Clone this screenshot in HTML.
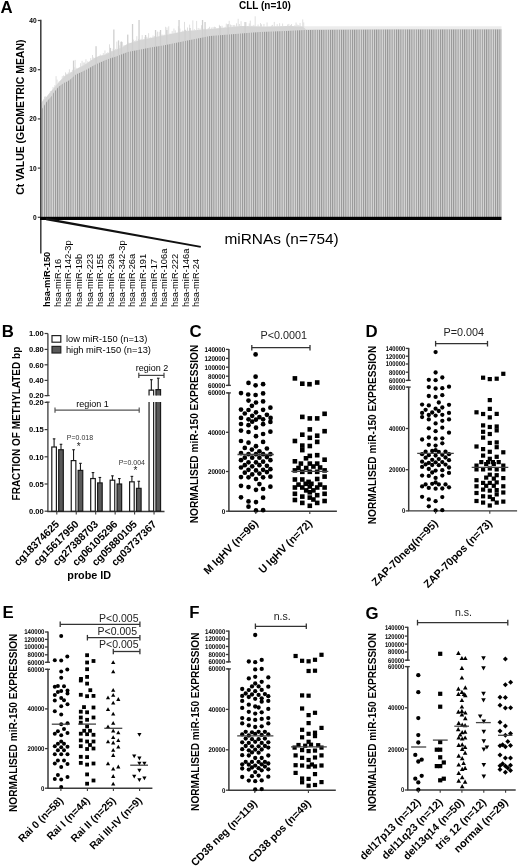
<!DOCTYPE html>
<html><head><meta charset="utf-8"><style>
html,body{margin:0;padding:0;background:#fff;}
svg{display:block;will-change:transform;-webkit-font-smoothing:antialiased;}
text{font-family:"Liberation Sans", sans-serif;}
</style></head><body>
<svg width="520" height="866" viewBox="0 0 520 866">
<defs>
<pattern id="stripes" patternUnits="userSpaceOnUse" width="2.2" height="10">
<rect width="2.2" height="10" fill="#d9d9d9"/><rect width="1.0" height="10" fill="#939393"/>
</pattern>
</defs>
<rect width="520" height="866" fill="#fff"/>
<text x="0.60" y="13.40" font-size="16.8" font-weight="bold" text-anchor="start" fill="#000">A</text>
<text x="239.00" y="9.30" font-size="10" font-weight="bold" text-anchor="start" fill="#000">CLL (n=10)</text>
<text x="23.90" y="117.20" font-size="10.45" font-weight="bold" text-anchor="middle" fill="#000" transform="rotate(-90 23.9 117.2)">Ct VALUE (GEOMETRIC MEAN)</text>
<rect x="300" y="26.3" width="201.5" height="4" fill="#ececec"/>
<polygon points="41.5,217 41.5,103.0 42.6,100.8 45.7,97.7 49.5,93.0 53.4,88.5 58.0,83.0 65.0,75.4 70.3,72.7 75.8,69.2 81.5,66.3 87.3,62.9 93.1,58.8 98.8,56.0 104.6,54.8 110.4,51.9 116.2,49.6 121.9,47.3 127.7,43.8 140.0,40.0 160.0,36.0 185.0,31.0 210.0,29.0 240.0,26.0 265.0,26.5 290.0,26.0 303.0,26.5 306.0,29.6 400.0,29.2 501.5,29.0 501.5,217" fill="#d6d6d6"/>
<rect x="43.0" y="99.4" width="0.9" height="1.5" fill="#dcdcdc"/>
<rect x="44.0" y="96.6" width="0.9" height="3.2" fill="#dcdcdc"/>
<rect x="45.0" y="96.4" width="0.9" height="2.5" fill="#dcdcdc"/>
<rect x="49.9" y="91.1" width="0.9" height="1.9" fill="#dcdcdc"/>
<rect x="52.6" y="86.9" width="0.9" height="3.1" fill="#dcdcdc"/>
<rect x="54.4" y="85.1" width="0.9" height="2.7" fill="#dcdcdc"/>
<rect x="55.6" y="76.1" width="0.9" height="10.2" fill="#dcdcdc"/>
<rect x="56.6" y="79.6" width="0.9" height="5.6" fill="#dcdcdc"/>
<rect x="58.7" y="81.3" width="0.9" height="1.5" fill="#dcdcdc"/>
<rect x="61.8" y="76.2" width="0.9" height="3.1" fill="#dcdcdc"/>
<rect x="63.0" y="75.5" width="0.9" height="2.6" fill="#dcdcdc"/>
<rect x="65.1" y="72.4" width="0.9" height="3.5" fill="#dcdcdc"/>
<rect x="66.3" y="73.7" width="0.9" height="1.5" fill="#dcdcdc"/>
<rect x="67.8" y="72.4" width="0.9" height="2.1" fill="#dcdcdc"/>
<rect x="68.9" y="69.3" width="0.9" height="4.6" fill="#dcdcdc"/>
<rect x="70.5" y="71.9" width="0.9" height="1.2" fill="#dcdcdc"/>
<rect x="71.9" y="69.8" width="0.9" height="2.4" fill="#dcdcdc"/>
<rect x="73.6" y="67.2" width="0.9" height="3.9" fill="#dcdcdc"/>
<rect x="74.7" y="59.9" width="0.9" height="10.5" fill="#dcdcdc"/>
<rect x="75.7" y="67.8" width="0.9" height="1.9" fill="#dcdcdc"/>
<rect x="80.2" y="63.2" width="0.9" height="4.3" fill="#dcdcdc"/>
<rect x="81.6" y="60.8" width="0.9" height="5.9" fill="#dcdcdc"/>
<rect x="82.8" y="62.5" width="0.9" height="3.6" fill="#dcdcdc"/>
<rect x="84.2" y="62.5" width="0.9" height="2.8" fill="#dcdcdc"/>
<rect x="85.5" y="59.2" width="0.9" height="5.3" fill="#dcdcdc"/>
<rect x="87.3" y="61.3" width="0.9" height="2.2" fill="#dcdcdc"/>
<rect x="90.3" y="58.1" width="0.9" height="3.2" fill="#dcdcdc"/>
<rect x="92.1" y="55.0" width="0.9" height="5.0" fill="#dcdcdc"/>
<rect x="93.2" y="57.5" width="0.9" height="1.8" fill="#dcdcdc"/>
<rect x="99.8" y="54.5" width="0.9" height="1.8" fill="#dcdcdc"/>
<rect x="102.8" y="53.1" width="0.9" height="2.6" fill="#dcdcdc"/>
<rect x="104.5" y="50.4" width="0.9" height="4.9" fill="#dcdcdc"/>
<rect x="106.1" y="53.2" width="0.9" height="1.3" fill="#dcdcdc"/>
<rect x="107.4" y="52.2" width="0.9" height="1.7" fill="#dcdcdc"/>
<rect x="109.1" y="44.3" width="0.9" height="8.7" fill="#dcdcdc"/>
<rect x="111.2" y="50.9" width="0.9" height="1.2" fill="#dcdcdc"/>
<rect x="112.6" y="48.7" width="0.9" height="2.8" fill="#dcdcdc"/>
<rect x="115.0" y="48.9" width="0.9" height="1.7" fill="#dcdcdc"/>
<rect x="116.4" y="41.6" width="0.9" height="8.5" fill="#dcdcdc"/>
<rect x="117.9" y="47.0" width="0.9" height="2.4" fill="#dcdcdc"/>
<rect x="119.4" y="45.4" width="0.9" height="3.4" fill="#dcdcdc"/>
<rect x="120.3" y="42.0" width="0.9" height="6.5" fill="#dcdcdc"/>
<rect x="121.9" y="41.9" width="0.9" height="5.9" fill="#dcdcdc"/>
<rect x="123.6" y="45.0" width="0.9" height="1.8" fill="#dcdcdc"/>
<rect x="127.2" y="43.5" width="0.9" height="1.1" fill="#dcdcdc"/>
<rect x="128.3" y="42.5" width="0.9" height="1.6" fill="#dcdcdc"/>
<rect x="133.2" y="39.6" width="0.9" height="3.0" fill="#dcdcdc"/>
<rect x="134.2" y="41.0" width="0.9" height="1.3" fill="#dcdcdc"/>
<rect x="135.4" y="40.2" width="0.9" height="1.7" fill="#dcdcdc"/>
<rect x="136.4" y="36.2" width="0.9" height="5.4" fill="#dcdcdc"/>
<rect x="138.2" y="38.9" width="0.9" height="2.1" fill="#dcdcdc"/>
<rect x="140.6" y="38.8" width="0.9" height="1.6" fill="#dcdcdc"/>
<rect x="141.7" y="35.1" width="0.9" height="5.1" fill="#dcdcdc"/>
<rect x="144.5" y="37.1" width="0.9" height="2.5" fill="#dcdcdc"/>
<rect x="145.5" y="36.9" width="0.9" height="2.5" fill="#dcdcdc"/>
<rect x="146.5" y="36.8" width="0.9" height="2.5" fill="#dcdcdc"/>
<rect x="148.2" y="33.2" width="0.9" height="5.7" fill="#dcdcdc"/>
<rect x="149.8" y="37.3" width="0.9" height="1.3" fill="#dcdcdc"/>
<rect x="152.6" y="35.5" width="0.9" height="2.5" fill="#dcdcdc"/>
<rect x="154.2" y="36.1" width="0.9" height="1.5" fill="#dcdcdc"/>
<rect x="155.3" y="32.6" width="0.9" height="4.8" fill="#dcdcdc"/>
<rect x="157.1" y="31.6" width="0.9" height="5.5" fill="#dcdcdc"/>
<rect x="158.7" y="31.8" width="0.9" height="4.9" fill="#dcdcdc"/>
<rect x="160.3" y="35.3" width="0.9" height="1.2" fill="#dcdcdc"/>
<rect x="161.6" y="34.5" width="0.9" height="1.6" fill="#dcdcdc"/>
<rect x="163.7" y="34.5" width="0.9" height="1.3" fill="#dcdcdc"/>
<rect x="165.2" y="26.8" width="0.9" height="8.7" fill="#dcdcdc"/>
<rect x="166.5" y="27.5" width="0.9" height="7.7" fill="#dcdcdc"/>
<rect x="168.3" y="26.3" width="0.9" height="8.6" fill="#dcdcdc"/>
<rect x="169.6" y="33.4" width="0.9" height="1.1" fill="#dcdcdc"/>
<rect x="171.7" y="31.1" width="0.9" height="3.0" fill="#dcdcdc"/>
<rect x="173.5" y="28.5" width="0.9" height="5.3" fill="#dcdcdc"/>
<rect x="174.8" y="30.3" width="0.9" height="3.3" fill="#dcdcdc"/>
<rect x="177.9" y="26.2" width="0.9" height="6.8" fill="#dcdcdc"/>
<rect x="179.5" y="28.5" width="0.9" height="4.1" fill="#dcdcdc"/>
<rect x="182.4" y="30.5" width="0.9" height="1.6" fill="#dcdcdc"/>
<rect x="184.1" y="21.9" width="0.9" height="9.8" fill="#dcdcdc"/>
<rect x="185.3" y="29.6" width="0.9" height="1.8" fill="#dcdcdc"/>
<rect x="187.1" y="27.5" width="0.9" height="3.9" fill="#dcdcdc"/>
<rect x="189.2" y="24.6" width="0.9" height="6.6" fill="#dcdcdc"/>
<rect x="192.4" y="20.4" width="0.9" height="10.5" fill="#dcdcdc"/>
<rect x="193.9" y="29.2" width="0.9" height="1.6" fill="#dcdcdc"/>
<rect x="196.2" y="20.9" width="0.9" height="9.7" fill="#dcdcdc"/>
<rect x="197.7" y="28.0" width="0.9" height="2.4" fill="#dcdcdc"/>
<rect x="199.5" y="28.4" width="0.9" height="2.0" fill="#dcdcdc"/>
<rect x="201.1" y="25.2" width="0.9" height="5.0" fill="#dcdcdc"/>
<rect x="202.2" y="28.9" width="0.9" height="1.3" fill="#dcdcdc"/>
<rect x="203.4" y="28.8" width="0.9" height="1.2" fill="#dcdcdc"/>
<rect x="204.8" y="28.6" width="0.9" height="1.3" fill="#dcdcdc"/>
<rect x="207.8" y="28.0" width="0.9" height="1.6" fill="#dcdcdc"/>
<rect x="209.1" y="26.8" width="0.9" height="2.8" fill="#dcdcdc"/>
<rect x="210.8" y="27.5" width="0.9" height="1.9" fill="#dcdcdc"/>
<rect x="212.6" y="26.9" width="0.9" height="2.3" fill="#dcdcdc"/>
<rect x="214.0" y="26.7" width="0.9" height="2.4" fill="#dcdcdc"/>
<rect x="214.9" y="27.0" width="0.9" height="2.0" fill="#dcdcdc"/>
<rect x="218.9" y="24.8" width="0.9" height="3.9" fill="#dcdcdc"/>
<rect x="220.3" y="26.9" width="0.9" height="1.5" fill="#dcdcdc"/>
<rect x="221.6" y="25.7" width="0.9" height="2.6" fill="#dcdcdc"/>
<rect x="224.7" y="26.8" width="0.9" height="1.2" fill="#dcdcdc"/>
<rect x="225.8" y="23.6" width="0.9" height="4.3" fill="#dcdcdc"/>
<rect x="227.2" y="25.1" width="0.9" height="2.6" fill="#dcdcdc"/>
<rect x="228.7" y="20.8" width="0.9" height="6.8" fill="#dcdcdc"/>
<rect x="230.0" y="24.5" width="0.9" height="3.0" fill="#dcdcdc"/>
<rect x="231.4" y="25.0" width="0.9" height="2.4" fill="#dcdcdc"/>
<rect x="232.9" y="25.1" width="0.9" height="2.1" fill="#dcdcdc"/>
<rect x="234.3" y="24.9" width="0.9" height="2.2" fill="#dcdcdc"/>
<rect x="236.0" y="23.3" width="0.9" height="3.6" fill="#dcdcdc"/>
<rect x="237.7" y="18.8" width="0.9" height="7.9" fill="#dcdcdc"/>
<rect x="238.9" y="24.0" width="0.9" height="2.6" fill="#dcdcdc"/>
<rect x="240.6" y="21.2" width="0.9" height="5.3" fill="#dcdcdc"/>
<rect x="245.6" y="22.1" width="0.9" height="4.5" fill="#dcdcdc"/>
<rect x="248.8" y="23.4" width="0.9" height="3.3" fill="#dcdcdc"/>
<rect x="249.8" y="20.6" width="0.9" height="6.1" fill="#dcdcdc"/>
<rect x="251.6" y="25.6" width="0.9" height="1.1" fill="#dcdcdc"/>
<rect x="253.4" y="24.9" width="0.9" height="1.8" fill="#dcdcdc"/>
<rect x="254.7" y="16.3" width="0.9" height="10.5" fill="#dcdcdc"/>
<rect x="257.6" y="24.5" width="0.9" height="2.4" fill="#dcdcdc"/>
<rect x="260.0" y="23.1" width="0.9" height="3.8" fill="#dcdcdc"/>
<rect x="261.0" y="24.3" width="0.9" height="2.6" fill="#dcdcdc"/>
<rect x="263.5" y="23.9" width="0.9" height="3.0" fill="#dcdcdc"/>
<rect x="266.6" y="22.4" width="0.9" height="4.5" fill="#dcdcdc"/>
<rect x="271.1" y="25.6" width="0.9" height="1.3" fill="#dcdcdc"/>
<rect x="272.1" y="24.9" width="0.9" height="1.9" fill="#dcdcdc"/>
<rect x="273.8" y="21.9" width="0.9" height="4.9" fill="#dcdcdc"/>
<rect x="276.7" y="24.1" width="0.9" height="2.7" fill="#dcdcdc"/>
<rect x="279.2" y="23.2" width="0.9" height="3.5" fill="#dcdcdc"/>
<rect x="282.2" y="23.5" width="0.9" height="3.1" fill="#dcdcdc"/>
<rect x="287.2" y="24.5" width="0.9" height="2.1" fill="#dcdcdc"/>
<rect x="288.4" y="23.9" width="0.9" height="2.6" fill="#dcdcdc"/>
<rect x="290.1" y="25.2" width="0.9" height="1.3" fill="#dcdcdc"/>
<rect x="291.1" y="24.1" width="0.9" height="2.4" fill="#dcdcdc"/>
<rect x="294.4" y="25.2" width="0.9" height="1.5" fill="#dcdcdc"/>
<rect x="295.6" y="22.5" width="0.9" height="4.2" fill="#dcdcdc"/>
<rect x="296.7" y="24.5" width="0.9" height="2.3" fill="#dcdcdc"/>
<rect x="297.8" y="25.2" width="0.9" height="1.6" fill="#dcdcdc"/>
<rect x="298.7" y="25.6" width="0.9" height="1.2" fill="#dcdcdc"/>
<rect x="299.6" y="22.9" width="0.9" height="3.9" fill="#dcdcdc"/>
<rect x="302.3" y="19.4" width="0.9" height="7.6" fill="#dcdcdc"/>
<rect x="303.3" y="22.4" width="0.9" height="4.9" fill="#dcdcdc"/>
<rect x="72.9" y="60.6" width="1.3" height="40" fill="#cfcfcf"/>
<rect x="95.4" y="46.2" width="1.3" height="40" fill="#cfcfcf"/>
<rect x="109.8" y="47.9" width="1.3" height="40" fill="#cfcfcf"/>
<rect x="113.2" y="29.5" width="1.3" height="40" fill="#cfcfcf"/>
<rect x="117.9" y="40.4" width="1.3" height="40" fill="#cfcfcf"/>
<rect x="120.7" y="41.5" width="1.3" height="40" fill="#cfcfcf"/>
<rect x="127.1" y="34.6" width="1.3" height="40" fill="#cfcfcf"/>
<rect x="131.9" y="24.0" width="1.3" height="40" fill="#cfcfcf"/>
<rect x="138.4" y="20.0" width="1.3" height="40" fill="#cfcfcf"/>
<rect x="144.9" y="35.0" width="1.3" height="40" fill="#cfcfcf"/>
<rect x="154.9" y="30.0" width="1.3" height="40" fill="#cfcfcf"/>
<rect x="159.9" y="30.0" width="1.3" height="40" fill="#cfcfcf"/>
<rect x="166.2" y="30.0" width="1.3" height="40" fill="#cfcfcf"/>
<rect x="178.4" y="20.0" width="1.3" height="40" fill="#cfcfcf"/>
<rect x="184.4" y="30.0" width="1.3" height="40" fill="#cfcfcf"/>
<rect x="189.4" y="28.0" width="1.3" height="40" fill="#cfcfcf"/>
<rect x="201.9" y="20.0" width="1.3" height="40" fill="#cfcfcf"/>
<rect x="204.4" y="22.0" width="1.3" height="40" fill="#cfcfcf"/>
<rect x="219.4" y="26.0" width="1.3" height="40" fill="#cfcfcf"/>
<rect x="227.4" y="24.0" width="1.3" height="40" fill="#cfcfcf"/>
<rect x="244.4" y="22.0" width="1.3" height="40" fill="#cfcfcf"/>
<polygon points="41.5,217 41.5,110.0 42.2,108.5 43.8,106.2 45.7,103.0 47.6,100.4 49.5,98.5 51.5,96.2 53.4,93.0 56.5,89.2 58.8,86.5 61.0,85.0 64.2,82.7 67.2,81.5 70.3,79.6 75.8,74.4 81.5,72.1 87.3,69.2 93.1,65.8 98.8,62.9 104.6,60.6 110.4,58.3 116.2,56.5 121.9,54.2 127.7,51.9 138.0,50.0 150.5,47.5 163.0,45.5 185.0,41.0 210.0,36.0 235.0,34.0 260.0,32.0 285.0,31.0 305.0,30.0 400.0,29.6 501.5,29.4 501.5,217" fill="url(#stripes)"/>
<line x1="40.80" y1="19.80" x2="40.80" y2="253.50" stroke="#3a3a3a" stroke-width="1.5" stroke-linecap="butt"/>
<line x1="37.80" y1="217.30" x2="40.70" y2="217.30" stroke="#3a3a3a" stroke-width="1.2" stroke-linecap="butt"/>
<text x="36.60" y="219.70" font-size="6.6" font-weight="bold" text-anchor="end" fill="#000">0</text>
<line x1="37.80" y1="168.10" x2="40.70" y2="168.10" stroke="#3a3a3a" stroke-width="1.2" stroke-linecap="butt"/>
<text x="36.60" y="170.50" font-size="6.6" font-weight="bold" text-anchor="end" fill="#000">10</text>
<line x1="37.80" y1="118.90" x2="40.70" y2="118.90" stroke="#3a3a3a" stroke-width="1.2" stroke-linecap="butt"/>
<text x="36.60" y="121.30" font-size="6.6" font-weight="bold" text-anchor="end" fill="#000">20</text>
<line x1="37.80" y1="69.70" x2="40.70" y2="69.70" stroke="#3a3a3a" stroke-width="1.2" stroke-linecap="butt"/>
<text x="36.60" y="72.10" font-size="6.6" font-weight="bold" text-anchor="end" fill="#000">30</text>
<line x1="37.80" y1="20.50" x2="40.70" y2="20.50" stroke="#3a3a3a" stroke-width="1.2" stroke-linecap="butt"/>
<text x="36.60" y="22.90" font-size="6.6" font-weight="bold" text-anchor="end" fill="#000">40</text>
<rect x="40.00" y="216.80" width="461.50" height="3.20" fill="#000"/>
<polygon points="46,217.8 201,245.9 200.6,247.7 46,220.2" fill="#111"/>
<text x="50.40" y="307.00" font-size="9.3" font-weight="bold" text-anchor="start" fill="#000" transform="rotate(-90 50.4 307.0)">hsa-miR-150</text>
<text x="60.50" y="307.00" font-size="9.3" font-weight="normal" text-anchor="start" fill="#000" transform="rotate(-90 60.5 307.0)">hsa-miR-16</text>
<text x="71.18" y="307.00" font-size="9.3" font-weight="normal" text-anchor="start" fill="#000" transform="rotate(-90 71.18 307.0)">hsa-miR-142-3p</text>
<text x="81.86" y="307.00" font-size="9.3" font-weight="normal" text-anchor="start" fill="#000" transform="rotate(-90 81.86 307.0)">hsa-miR-19b</text>
<text x="92.54" y="307.00" font-size="9.3" font-weight="normal" text-anchor="start" fill="#000" transform="rotate(-90 92.53999999999999 307.0)">hsa-miR-223</text>
<text x="103.22" y="307.00" font-size="9.3" font-weight="normal" text-anchor="start" fill="#000" transform="rotate(-90 103.22 307.0)">hsa-miR-155</text>
<text x="113.90" y="307.00" font-size="9.3" font-weight="normal" text-anchor="start" fill="#000" transform="rotate(-90 113.9 307.0)">hsa-miR-29a</text>
<text x="124.58" y="307.00" font-size="9.3" font-weight="normal" text-anchor="start" fill="#000" transform="rotate(-90 124.58 307.0)">hsa-miR-342-3p</text>
<text x="135.26" y="307.00" font-size="9.3" font-weight="normal" text-anchor="start" fill="#000" transform="rotate(-90 135.26 307.0)">hsa-miR-26a</text>
<text x="145.94" y="307.00" font-size="9.3" font-weight="normal" text-anchor="start" fill="#000" transform="rotate(-90 145.94 307.0)">hsa-miR-191</text>
<text x="156.62" y="307.00" font-size="9.3" font-weight="normal" text-anchor="start" fill="#000" transform="rotate(-90 156.62 307.0)">hsa-miR-17</text>
<text x="167.30" y="307.00" font-size="9.3" font-weight="normal" text-anchor="start" fill="#000" transform="rotate(-90 167.3 307.0)">hsa-miR-106a</text>
<text x="177.98" y="307.00" font-size="9.3" font-weight="normal" text-anchor="start" fill="#000" transform="rotate(-90 177.98 307.0)">hsa-miR-222</text>
<text x="188.66" y="307.00" font-size="9.3" font-weight="normal" text-anchor="start" fill="#000" transform="rotate(-90 188.66 307.0)">hsa-miR-146a</text>
<text x="199.34" y="307.00" font-size="9.3" font-weight="normal" text-anchor="start" fill="#000" transform="rotate(-90 199.34 307.0)">hsa-miR-24</text>
<text x="224.50" y="243.90" font-size="15.4" font-weight="normal" text-anchor="start" fill="#000">miRNAs (n=754)</text>
<text x="1.80" y="337.20" font-size="16.8" font-weight="bold" text-anchor="start" fill="#000">B</text>
<text x="20.20" y="423.60" font-size="10" font-weight="bold" text-anchor="middle" fill="#000" transform="rotate(-90 20.2 423.6)">FRACTION OF METHYLATED bp</text>
<line x1="47.90" y1="333.50" x2="47.90" y2="395.60" stroke="#3a3a3a" stroke-width="1.3" stroke-linecap="butt"/>
<line x1="44.60" y1="333.50" x2="47.90" y2="333.50" stroke="#3a3a3a" stroke-width="1.2" stroke-linecap="butt"/>
<text x="43.70" y="336.30" font-size="7.6" font-weight="bold" text-anchor="end" fill="#000">1.00</text>
<line x1="44.60" y1="349.40" x2="47.90" y2="349.40" stroke="#3a3a3a" stroke-width="1.2" stroke-linecap="butt"/>
<text x="43.70" y="352.20" font-size="7.6" font-weight="bold" text-anchor="end" fill="#000">0.80</text>
<line x1="44.60" y1="364.80" x2="47.90" y2="364.80" stroke="#3a3a3a" stroke-width="1.2" stroke-linecap="butt"/>
<text x="43.70" y="367.60" font-size="7.6" font-weight="bold" text-anchor="end" fill="#000">0.60</text>
<line x1="44.60" y1="380.40" x2="47.90" y2="380.40" stroke="#3a3a3a" stroke-width="1.2" stroke-linecap="butt"/>
<text x="43.70" y="383.20" font-size="7.6" font-weight="bold" text-anchor="end" fill="#000">0.40</text>
<line x1="44.60" y1="395.60" x2="47.90" y2="395.60" stroke="#3a3a3a" stroke-width="1.2" stroke-linecap="butt"/>
<text x="43.70" y="398.40" font-size="7.6" font-weight="bold" text-anchor="end" fill="#000">0.20</text>
<line x1="46.20" y1="395.60" x2="49.60" y2="395.60" stroke="#3a3a3a" stroke-width="1.2" stroke-linecap="butt"/>
<line x1="47.90" y1="402.10" x2="47.90" y2="511.80" stroke="#3a3a3a" stroke-width="1.3" stroke-linecap="butt"/>
<line x1="44.60" y1="511.20" x2="47.90" y2="511.20" stroke="#3a3a3a" stroke-width="1.2" stroke-linecap="butt"/>
<text x="43.70" y="514.00" font-size="7.6" font-weight="bold" text-anchor="end" fill="#000">0.00</text>
<line x1="44.60" y1="484.00" x2="47.90" y2="484.00" stroke="#3a3a3a" stroke-width="1.2" stroke-linecap="butt"/>
<text x="43.70" y="486.80" font-size="7.6" font-weight="bold" text-anchor="end" fill="#000">0.05</text>
<line x1="44.60" y1="456.80" x2="47.90" y2="456.80" stroke="#3a3a3a" stroke-width="1.2" stroke-linecap="butt"/>
<text x="43.70" y="459.60" font-size="7.6" font-weight="bold" text-anchor="end" fill="#000">0.10</text>
<line x1="44.60" y1="429.60" x2="47.90" y2="429.60" stroke="#3a3a3a" stroke-width="1.2" stroke-linecap="butt"/>
<text x="43.70" y="432.40" font-size="7.6" font-weight="bold" text-anchor="end" fill="#000">0.15</text>
<line x1="44.60" y1="402.40" x2="47.90" y2="402.40" stroke="#3a3a3a" stroke-width="1.2" stroke-linecap="butt"/>
<text x="43.70" y="405.20" font-size="7.6" font-weight="bold" text-anchor="end" fill="#000">0.20</text>
<line x1="46.20" y1="402.10" x2="49.60" y2="402.10" stroke="#3a3a3a" stroke-width="1.2" stroke-linecap="butt"/>
<line x1="47.30" y1="511.50" x2="164.50" y2="511.50" stroke="#3a3a3a" stroke-width="1.3" stroke-linecap="butt"/>
<rect x="51.80" y="447.01" width="4.60" height="64.19" fill="#fff" stroke="#1a1a1a" stroke-width="1.2"/>
<line x1="54.10" y1="438.85" x2="54.10" y2="447.01" stroke="#1a1a1a" stroke-width="1.1" stroke-linecap="butt"/>
<line x1="52.80" y1="438.85" x2="55.40" y2="438.85" stroke="#1a1a1a" stroke-width="1.1" stroke-linecap="butt"/>
<rect x="58.70" y="449.73" width="4.60" height="61.47" fill="#595959" stroke="#1a1a1a" stroke-width="1.2"/>
<line x1="61.00" y1="444.29" x2="61.00" y2="449.73" stroke="#1a1a1a" stroke-width="1.1" stroke-linecap="butt"/>
<line x1="59.70" y1="444.29" x2="62.30" y2="444.29" stroke="#1a1a1a" stroke-width="1.1" stroke-linecap="butt"/>
<line x1="56.80" y1="511.50" x2="56.80" y2="514.50" stroke="#3a3a3a" stroke-width="1.1" stroke-linecap="butt"/>
<rect x="71.25" y="460.61" width="4.60" height="50.59" fill="#fff" stroke="#1a1a1a" stroke-width="1.2"/>
<line x1="73.55" y1="449.73" x2="73.55" y2="460.61" stroke="#1a1a1a" stroke-width="1.1" stroke-linecap="butt"/>
<line x1="72.25" y1="449.73" x2="74.85" y2="449.73" stroke="#1a1a1a" stroke-width="1.1" stroke-linecap="butt"/>
<rect x="78.15" y="470.40" width="4.60" height="40.80" fill="#595959" stroke="#1a1a1a" stroke-width="1.2"/>
<line x1="80.45" y1="463.33" x2="80.45" y2="470.40" stroke="#1a1a1a" stroke-width="1.1" stroke-linecap="butt"/>
<line x1="79.15" y1="463.33" x2="81.75" y2="463.33" stroke="#1a1a1a" stroke-width="1.1" stroke-linecap="butt"/>
<line x1="76.25" y1="511.50" x2="76.25" y2="514.50" stroke="#3a3a3a" stroke-width="1.1" stroke-linecap="butt"/>
<rect x="90.70" y="478.56" width="4.60" height="32.64" fill="#fff" stroke="#1a1a1a" stroke-width="1.2"/>
<line x1="93.00" y1="472.58" x2="93.00" y2="478.56" stroke="#1a1a1a" stroke-width="1.1" stroke-linecap="butt"/>
<line x1="91.70" y1="472.58" x2="94.30" y2="472.58" stroke="#1a1a1a" stroke-width="1.1" stroke-linecap="butt"/>
<rect x="97.60" y="482.91" width="4.60" height="28.29" fill="#595959" stroke="#1a1a1a" stroke-width="1.2"/>
<line x1="99.90" y1="477.47" x2="99.90" y2="482.91" stroke="#1a1a1a" stroke-width="1.1" stroke-linecap="butt"/>
<line x1="98.60" y1="477.47" x2="101.20" y2="477.47" stroke="#1a1a1a" stroke-width="1.1" stroke-linecap="butt"/>
<line x1="95.70" y1="511.50" x2="95.70" y2="514.50" stroke="#3a3a3a" stroke-width="1.1" stroke-linecap="butt"/>
<rect x="110.15" y="480.19" width="4.60" height="31.01" fill="#fff" stroke="#1a1a1a" stroke-width="1.2"/>
<line x1="112.45" y1="475.84" x2="112.45" y2="480.19" stroke="#1a1a1a" stroke-width="1.1" stroke-linecap="butt"/>
<line x1="111.15" y1="475.84" x2="113.75" y2="475.84" stroke="#1a1a1a" stroke-width="1.1" stroke-linecap="butt"/>
<rect x="117.05" y="484.00" width="4.60" height="27.20" fill="#595959" stroke="#1a1a1a" stroke-width="1.2"/>
<line x1="119.35" y1="478.56" x2="119.35" y2="484.00" stroke="#1a1a1a" stroke-width="1.1" stroke-linecap="butt"/>
<line x1="118.05" y1="478.56" x2="120.65" y2="478.56" stroke="#1a1a1a" stroke-width="1.1" stroke-linecap="butt"/>
<line x1="115.15" y1="511.50" x2="115.15" y2="514.50" stroke="#3a3a3a" stroke-width="1.1" stroke-linecap="butt"/>
<rect x="129.60" y="481.82" width="4.60" height="29.38" fill="#fff" stroke="#1a1a1a" stroke-width="1.2"/>
<line x1="131.90" y1="476.38" x2="131.90" y2="481.82" stroke="#1a1a1a" stroke-width="1.1" stroke-linecap="butt"/>
<line x1="130.60" y1="476.38" x2="133.20" y2="476.38" stroke="#1a1a1a" stroke-width="1.1" stroke-linecap="butt"/>
<rect x="136.50" y="488.35" width="4.60" height="22.85" fill="#595959" stroke="#1a1a1a" stroke-width="1.2"/>
<line x1="138.80" y1="481.28" x2="138.80" y2="488.35" stroke="#1a1a1a" stroke-width="1.1" stroke-linecap="butt"/>
<line x1="137.50" y1="481.28" x2="140.10" y2="481.28" stroke="#1a1a1a" stroke-width="1.1" stroke-linecap="butt"/>
<line x1="134.60" y1="511.50" x2="134.60" y2="514.50" stroke="#3a3a3a" stroke-width="1.1" stroke-linecap="butt"/>
<rect x="149.05" y="390.20" width="4.60" height="5.30" fill="#fff"/>
<path d="M149.05,395.5 V390.20 H153.65 V395.5" fill="none" stroke="#1a1a1a" stroke-width="1.2"/>
<line x1="151.35" y1="379.70" x2="151.35" y2="390.20" stroke="#1a1a1a" stroke-width="1.1" stroke-linecap="butt"/>
<line x1="150.05" y1="379.70" x2="152.65" y2="379.70" stroke="#1a1a1a" stroke-width="1.1" stroke-linecap="butt"/>
<rect x="149.05" y="402.00" width="4.60" height="109.20" fill="#fff"/>
<path d="M149.05,402 V511.2 H153.65 V402" fill="none" stroke="#1a1a1a" stroke-width="1.2"/>
<rect x="155.95" y="389.60" width="4.60" height="5.90" fill="#595959"/>
<path d="M155.95,395.5 V389.60 H160.55 V395.5" fill="none" stroke="#1a1a1a" stroke-width="1.2"/>
<line x1="158.25" y1="378.20" x2="158.25" y2="389.60" stroke="#1a1a1a" stroke-width="1.1" stroke-linecap="butt"/>
<line x1="156.95" y1="378.20" x2="159.55" y2="378.20" stroke="#1a1a1a" stroke-width="1.1" stroke-linecap="butt"/>
<rect x="155.95" y="402.00" width="4.60" height="109.20" fill="#595959"/>
<path d="M155.95,402 V511.2 H160.55 V402" fill="none" stroke="#1a1a1a" stroke-width="1.2"/>
<line x1="154.05" y1="511.50" x2="154.05" y2="514.50" stroke="#3a3a3a" stroke-width="1.1" stroke-linecap="butt"/>
<rect x="52.00" y="335.60" width="8.80" height="6.60" fill="#fff" stroke="#222" stroke-width="1.2"/>
<rect x="52.00" y="346.40" width="8.80" height="6.60" fill="#595959" stroke="#222" stroke-width="1.2"/>
<text x="65.90" y="342.00" font-size="9.3" font-weight="normal" text-anchor="start" fill="#000">low miR-150 (n=13)</text>
<text x="65.90" y="352.50" font-size="9.3" font-weight="normal" text-anchor="start" fill="#000">high miR-150 (n=13)</text>
<line x1="55.00" y1="410.10" x2="139.20" y2="410.10" stroke="#555" stroke-width="1.2" stroke-linecap="butt"/>
<line x1="55.00" y1="407.50" x2="55.00" y2="412.70" stroke="#555" stroke-width="1.2" stroke-linecap="butt"/>
<line x1="139.20" y1="407.50" x2="139.20" y2="412.70" stroke="#555" stroke-width="1.2" stroke-linecap="butt"/>
<line x1="138.80" y1="375.40" x2="164.00" y2="375.40" stroke="#444" stroke-width="1.2" stroke-linecap="butt"/>
<line x1="138.80" y1="372.80" x2="138.80" y2="378.00" stroke="#444" stroke-width="1.2" stroke-linecap="butt"/>
<line x1="164.00" y1="372.80" x2="164.00" y2="378.00" stroke="#444" stroke-width="1.2" stroke-linecap="butt"/>
<text x="76.20" y="406.50" font-size="9" font-weight="normal" text-anchor="start" fill="#000">region 1</text>
<text x="135.80" y="371.20" font-size="9" font-weight="normal" text-anchor="start" fill="#000">region 2</text>
<text x="66.80" y="439.80" font-size="7" font-weight="normal" text-anchor="start" fill="#333">P=0.018</text>
<text x="118.70" y="465.00" font-size="7" font-weight="normal" text-anchor="start" fill="#333">P=0.004</text>
<text x="78.60" y="449.50" font-size="10" font-weight="normal" text-anchor="middle" fill="#222">*</text>
<text x="135.40" y="474.20" font-size="10" font-weight="normal" text-anchor="middle" fill="#222">*</text>
<text x="59.90" y="524.80" font-size="10.5" font-weight="bold" text-anchor="end" fill="#000" transform="rotate(-45 59.900000000000006 524.8)">cg18374625</text>
<text x="79.35" y="524.80" font-size="10.5" font-weight="bold" text-anchor="end" fill="#000" transform="rotate(-45 79.35000000000001 524.8)">cg15617950</text>
<text x="98.80" y="524.80" font-size="10.5" font-weight="bold" text-anchor="end" fill="#000" transform="rotate(-45 98.8 524.8)">cg27388703</text>
<text x="118.25" y="524.80" font-size="10.5" font-weight="bold" text-anchor="end" fill="#000" transform="rotate(-45 118.25 524.8)">cg06105296</text>
<text x="137.70" y="524.80" font-size="10.5" font-weight="bold" text-anchor="end" fill="#000" transform="rotate(-45 137.7 524.8)">cg05880105</text>
<text x="157.15" y="524.80" font-size="10.5" font-weight="bold" text-anchor="end" fill="#000" transform="rotate(-45 157.14999999999998 524.8)">cg03737367</text>
<text x="67.30" y="579.20" font-size="10.8" font-weight="bold" text-anchor="start" fill="#000">probe ID</text>
<text x="189.60" y="337.30" font-size="16.8" font-weight="bold" text-anchor="start" fill="#000">C</text>
<text x="198.00" y="434.00" font-size="10.1" font-weight="bold" text-anchor="middle" fill="#000" transform="rotate(-90 198.0 434.0)">NORMALISED miR-150 EXPRESSION</text>
<line x1="228.90" y1="348.90" x2="228.90" y2="385.40" stroke="#3a3a3a" stroke-width="1.5" stroke-linecap="butt"/>
<line x1="225.90" y1="349.40" x2="228.90" y2="349.40" stroke="#3a3a3a" stroke-width="1.3" stroke-linecap="butt"/>
<text x="0" y="0" font-size="6.9" font-weight="bold" text-anchor="end" fill="#000" text-rendering="geometricPrecision" transform="translate(225.30 351.85) scale(0.907 1)">140000</text>
<line x1="225.90" y1="358.40" x2="228.90" y2="358.40" stroke="#3a3a3a" stroke-width="1.3" stroke-linecap="butt"/>
<text x="0" y="0" font-size="6.9" font-weight="bold" text-anchor="end" fill="#000" text-rendering="geometricPrecision" transform="translate(225.30 360.85) scale(0.907 1)">120000</text>
<line x1="225.90" y1="367.20" x2="228.90" y2="367.20" stroke="#3a3a3a" stroke-width="1.3" stroke-linecap="butt"/>
<text x="0" y="0" font-size="6.9" font-weight="bold" text-anchor="end" fill="#000" text-rendering="geometricPrecision" transform="translate(225.30 369.65) scale(0.907 1)">100000</text>
<line x1="225.90" y1="376.20" x2="228.90" y2="376.20" stroke="#3a3a3a" stroke-width="1.3" stroke-linecap="butt"/>
<text x="0" y="0" font-size="6.9" font-weight="bold" text-anchor="end" fill="#000" text-rendering="geometricPrecision" transform="translate(225.30 378.65) scale(0.907 1)">80000</text>
<line x1="225.90" y1="385.40" x2="228.90" y2="385.40" stroke="#3a3a3a" stroke-width="1.3" stroke-linecap="butt"/>
<text x="0" y="0" font-size="6.9" font-weight="bold" text-anchor="end" fill="#000" text-rendering="geometricPrecision" transform="translate(225.30 387.85) scale(0.907 1)">60000</text>
<line x1="227.40" y1="385.40" x2="230.90" y2="385.40" stroke="#3a3a3a" stroke-width="1.3" stroke-linecap="butt"/>
<line x1="228.90" y1="392.90" x2="228.90" y2="511.20" stroke="#3a3a3a" stroke-width="1.5" stroke-linecap="butt"/>
<line x1="227.40" y1="392.90" x2="230.90" y2="392.90" stroke="#3a3a3a" stroke-width="1.3" stroke-linecap="butt"/>
<line x1="225.90" y1="392.90" x2="228.90" y2="392.90" stroke="#3a3a3a" stroke-width="1.3" stroke-linecap="butt"/>
<text x="0" y="0" font-size="6.9" font-weight="bold" text-anchor="end" fill="#000" text-rendering="geometricPrecision" transform="translate(225.30 395.35) scale(0.907 1)">60000</text>
<line x1="225.90" y1="432.30" x2="228.90" y2="432.30" stroke="#3a3a3a" stroke-width="1.3" stroke-linecap="butt"/>
<text x="0" y="0" font-size="6.9" font-weight="bold" text-anchor="end" fill="#000" text-rendering="geometricPrecision" transform="translate(225.30 434.75) scale(0.907 1)">40000</text>
<line x1="225.90" y1="471.50" x2="228.90" y2="471.50" stroke="#3a3a3a" stroke-width="1.3" stroke-linecap="butt"/>
<text x="0" y="0" font-size="6.9" font-weight="bold" text-anchor="end" fill="#000" text-rendering="geometricPrecision" transform="translate(225.30 473.95) scale(0.907 1)">20000</text>
<line x1="225.90" y1="511.20" x2="228.90" y2="511.20" stroke="#3a3a3a" stroke-width="1.3" stroke-linecap="butt"/>
<text x="0" y="0" font-size="6.9" font-weight="bold" text-anchor="end" fill="#000" text-rendering="geometricPrecision" transform="translate(225.30 513.65) scale(0.907 1)">0</text>
<line x1="228.30" y1="511.20" x2="336.90" y2="511.20" stroke="#3a3a3a" stroke-width="1.4" stroke-linecap="butt"/>
<text x="365.50" y="337.30" font-size="16.8" font-weight="bold" text-anchor="start" fill="#000">D</text>
<text x="375.80" y="435.00" font-size="10.1" font-weight="bold" text-anchor="middle" fill="#000" transform="rotate(-90 375.8 435.0)">NORMALISED miR-150 EXPRESSION</text>
<line x1="408.70" y1="347.90" x2="408.70" y2="380.40" stroke="#3a3a3a" stroke-width="1.5" stroke-linecap="butt"/>
<line x1="405.70" y1="348.40" x2="408.70" y2="348.40" stroke="#3a3a3a" stroke-width="1.3" stroke-linecap="butt"/>
<text x="0" y="0" font-size="6.9" font-weight="bold" text-anchor="end" fill="#000" text-rendering="geometricPrecision" transform="translate(405.10 350.85) scale(0.839 1)">140000</text>
<line x1="405.70" y1="356.20" x2="408.70" y2="356.20" stroke="#3a3a3a" stroke-width="1.3" stroke-linecap="butt"/>
<text x="0" y="0" font-size="6.9" font-weight="bold" text-anchor="end" fill="#000" text-rendering="geometricPrecision" transform="translate(405.10 358.65) scale(0.839 1)">120000</text>
<line x1="405.70" y1="364.00" x2="408.70" y2="364.00" stroke="#3a3a3a" stroke-width="1.3" stroke-linecap="butt"/>
<text x="0" y="0" font-size="6.9" font-weight="bold" text-anchor="end" fill="#000" text-rendering="geometricPrecision" transform="translate(405.10 366.45) scale(0.839 1)">100000</text>
<line x1="405.70" y1="372.20" x2="408.70" y2="372.20" stroke="#3a3a3a" stroke-width="1.3" stroke-linecap="butt"/>
<text x="0" y="0" font-size="6.9" font-weight="bold" text-anchor="end" fill="#000" text-rendering="geometricPrecision" transform="translate(405.10 374.65) scale(0.839 1)">80000</text>
<line x1="405.70" y1="380.40" x2="408.70" y2="380.40" stroke="#3a3a3a" stroke-width="1.3" stroke-linecap="butt"/>
<text x="0" y="0" font-size="6.9" font-weight="bold" text-anchor="end" fill="#000" text-rendering="geometricPrecision" transform="translate(405.10 382.85) scale(0.839 1)">60000</text>
<line x1="407.20" y1="380.40" x2="410.70" y2="380.40" stroke="#3a3a3a" stroke-width="1.3" stroke-linecap="butt"/>
<line x1="408.70" y1="387.10" x2="408.70" y2="510.90" stroke="#3a3a3a" stroke-width="1.5" stroke-linecap="butt"/>
<line x1="407.20" y1="387.10" x2="410.70" y2="387.10" stroke="#3a3a3a" stroke-width="1.3" stroke-linecap="butt"/>
<line x1="405.70" y1="387.10" x2="408.70" y2="387.10" stroke="#3a3a3a" stroke-width="1.3" stroke-linecap="butt"/>
<text x="0" y="0" font-size="6.9" font-weight="bold" text-anchor="end" fill="#000" text-rendering="geometricPrecision" transform="translate(405.10 389.55) scale(0.839 1)">60000</text>
<line x1="405.70" y1="428.50" x2="408.70" y2="428.50" stroke="#3a3a3a" stroke-width="1.3" stroke-linecap="butt"/>
<text x="0" y="0" font-size="6.9" font-weight="bold" text-anchor="end" fill="#000" text-rendering="geometricPrecision" transform="translate(405.10 430.95) scale(0.839 1)">40000</text>
<line x1="405.70" y1="469.70" x2="408.70" y2="469.70" stroke="#3a3a3a" stroke-width="1.3" stroke-linecap="butt"/>
<text x="0" y="0" font-size="6.9" font-weight="bold" text-anchor="end" fill="#000" text-rendering="geometricPrecision" transform="translate(405.10 472.15) scale(0.839 1)">20000</text>
<line x1="405.70" y1="510.90" x2="408.70" y2="510.90" stroke="#3a3a3a" stroke-width="1.3" stroke-linecap="butt"/>
<text x="0" y="0" font-size="6.9" font-weight="bold" text-anchor="end" fill="#000" text-rendering="geometricPrecision" transform="translate(405.10 513.35) scale(0.839 1)">0</text>
<line x1="408.10" y1="510.90" x2="517.10" y2="510.90" stroke="#3a3a3a" stroke-width="1.4" stroke-linecap="butt"/>
<text x="2.60" y="618.20" font-size="16.8" font-weight="bold" text-anchor="start" fill="#000">E</text>
<text x="17.50" y="722.80" font-size="10.1" font-weight="bold" text-anchor="middle" fill="#000" transform="rotate(-90 17.5 722.8)">NORMALISED miR-150 EXPRESSION</text>
<line x1="48.00" y1="631.50" x2="48.00" y2="662.30" stroke="#3a3a3a" stroke-width="1.5" stroke-linecap="butt"/>
<line x1="45.00" y1="632.00" x2="48.00" y2="632.00" stroke="#3a3a3a" stroke-width="1.3" stroke-linecap="butt"/>
<text x="0" y="0" font-size="6.9" font-weight="bold" text-anchor="end" fill="#000" text-rendering="geometricPrecision" transform="translate(44.40 634.45) scale(0.881 1)">140000</text>
<line x1="45.00" y1="639.40" x2="48.00" y2="639.40" stroke="#3a3a3a" stroke-width="1.3" stroke-linecap="butt"/>
<text x="0" y="0" font-size="6.9" font-weight="bold" text-anchor="end" fill="#000" text-rendering="geometricPrecision" transform="translate(44.40 641.85) scale(0.881 1)">120000</text>
<line x1="45.00" y1="647.00" x2="48.00" y2="647.00" stroke="#3a3a3a" stroke-width="1.3" stroke-linecap="butt"/>
<text x="0" y="0" font-size="6.9" font-weight="bold" text-anchor="end" fill="#000" text-rendering="geometricPrecision" transform="translate(44.40 649.45) scale(0.881 1)">100000</text>
<line x1="45.00" y1="654.80" x2="48.00" y2="654.80" stroke="#3a3a3a" stroke-width="1.3" stroke-linecap="butt"/>
<text x="0" y="0" font-size="6.9" font-weight="bold" text-anchor="end" fill="#000" text-rendering="geometricPrecision" transform="translate(44.40 657.25) scale(0.881 1)">80000</text>
<line x1="45.00" y1="662.30" x2="48.00" y2="662.30" stroke="#3a3a3a" stroke-width="1.3" stroke-linecap="butt"/>
<text x="0" y="0" font-size="6.9" font-weight="bold" text-anchor="end" fill="#000" text-rendering="geometricPrecision" transform="translate(44.40 664.75) scale(0.881 1)">60000</text>
<line x1="46.50" y1="662.30" x2="50.00" y2="662.30" stroke="#3a3a3a" stroke-width="1.3" stroke-linecap="butt"/>
<line x1="48.00" y1="669.30" x2="48.00" y2="788.20" stroke="#3a3a3a" stroke-width="1.5" stroke-linecap="butt"/>
<line x1="46.50" y1="669.30" x2="50.00" y2="669.30" stroke="#3a3a3a" stroke-width="1.3" stroke-linecap="butt"/>
<line x1="45.00" y1="669.30" x2="48.00" y2="669.30" stroke="#3a3a3a" stroke-width="1.3" stroke-linecap="butt"/>
<text x="0" y="0" font-size="6.9" font-weight="bold" text-anchor="end" fill="#000" text-rendering="geometricPrecision" transform="translate(44.40 671.75) scale(0.881 1)">60000</text>
<line x1="45.00" y1="708.90" x2="48.00" y2="708.90" stroke="#3a3a3a" stroke-width="1.3" stroke-linecap="butt"/>
<text x="0" y="0" font-size="6.9" font-weight="bold" text-anchor="end" fill="#000" text-rendering="geometricPrecision" transform="translate(44.40 711.35) scale(0.881 1)">40000</text>
<line x1="45.00" y1="748.60" x2="48.00" y2="748.60" stroke="#3a3a3a" stroke-width="1.3" stroke-linecap="butt"/>
<text x="0" y="0" font-size="6.9" font-weight="bold" text-anchor="end" fill="#000" text-rendering="geometricPrecision" transform="translate(44.40 751.05) scale(0.881 1)">20000</text>
<line x1="45.00" y1="788.20" x2="48.00" y2="788.20" stroke="#3a3a3a" stroke-width="1.3" stroke-linecap="butt"/>
<text x="0" y="0" font-size="6.9" font-weight="bold" text-anchor="end" fill="#000" text-rendering="geometricPrecision" transform="translate(44.40 790.65) scale(0.881 1)">0</text>
<line x1="47.40" y1="788.20" x2="152.40" y2="788.20" stroke="#3a3a3a" stroke-width="1.4" stroke-linecap="butt"/>
<text x="189.30" y="618.20" font-size="16.8" font-weight="bold" text-anchor="start" fill="#000">F</text>
<text x="199.00" y="721.70" font-size="10.1" font-weight="bold" text-anchor="middle" fill="#000" transform="rotate(-90 199.0 721.7)">NORMALISED miR-150 EXPRESSION</text>
<line x1="228.90" y1="630.60" x2="228.90" y2="661.90" stroke="#3a3a3a" stroke-width="1.5" stroke-linecap="butt"/>
<line x1="225.90" y1="631.10" x2="228.90" y2="631.10" stroke="#3a3a3a" stroke-width="1.3" stroke-linecap="butt"/>
<text x="0" y="0" font-size="6.9" font-weight="bold" text-anchor="end" fill="#000" text-rendering="geometricPrecision" transform="translate(225.30 633.55) scale(0.878 1)">140000</text>
<line x1="225.90" y1="638.90" x2="228.90" y2="638.90" stroke="#3a3a3a" stroke-width="1.3" stroke-linecap="butt"/>
<text x="0" y="0" font-size="6.9" font-weight="bold" text-anchor="end" fill="#000" text-rendering="geometricPrecision" transform="translate(225.30 641.35) scale(0.878 1)">120000</text>
<line x1="225.90" y1="646.50" x2="228.90" y2="646.50" stroke="#3a3a3a" stroke-width="1.3" stroke-linecap="butt"/>
<text x="0" y="0" font-size="6.9" font-weight="bold" text-anchor="end" fill="#000" text-rendering="geometricPrecision" transform="translate(225.30 648.95) scale(0.878 1)">100000</text>
<line x1="225.90" y1="654.50" x2="228.90" y2="654.50" stroke="#3a3a3a" stroke-width="1.3" stroke-linecap="butt"/>
<text x="0" y="0" font-size="6.9" font-weight="bold" text-anchor="end" fill="#000" text-rendering="geometricPrecision" transform="translate(225.30 656.95) scale(0.878 1)">80000</text>
<line x1="225.90" y1="661.90" x2="228.90" y2="661.90" stroke="#3a3a3a" stroke-width="1.3" stroke-linecap="butt"/>
<text x="0" y="0" font-size="6.9" font-weight="bold" text-anchor="end" fill="#000" text-rendering="geometricPrecision" transform="translate(225.30 664.35) scale(0.878 1)">60000</text>
<line x1="227.40" y1="661.90" x2="230.90" y2="661.90" stroke="#3a3a3a" stroke-width="1.3" stroke-linecap="butt"/>
<line x1="228.90" y1="668.90" x2="228.90" y2="790.20" stroke="#3a3a3a" stroke-width="1.5" stroke-linecap="butt"/>
<line x1="227.40" y1="668.90" x2="230.90" y2="668.90" stroke="#3a3a3a" stroke-width="1.3" stroke-linecap="butt"/>
<line x1="225.90" y1="668.90" x2="228.90" y2="668.90" stroke="#3a3a3a" stroke-width="1.3" stroke-linecap="butt"/>
<text x="0" y="0" font-size="6.9" font-weight="bold" text-anchor="end" fill="#000" text-rendering="geometricPrecision" transform="translate(225.30 671.35) scale(0.878 1)">60000</text>
<line x1="225.90" y1="709.40" x2="228.90" y2="709.40" stroke="#3a3a3a" stroke-width="1.3" stroke-linecap="butt"/>
<text x="0" y="0" font-size="6.9" font-weight="bold" text-anchor="end" fill="#000" text-rendering="geometricPrecision" transform="translate(225.30 711.85) scale(0.878 1)">40000</text>
<line x1="225.90" y1="749.80" x2="228.90" y2="749.80" stroke="#3a3a3a" stroke-width="1.3" stroke-linecap="butt"/>
<text x="0" y="0" font-size="6.9" font-weight="bold" text-anchor="end" fill="#000" text-rendering="geometricPrecision" transform="translate(225.30 752.25) scale(0.878 1)">20000</text>
<line x1="225.90" y1="790.20" x2="228.90" y2="790.20" stroke="#3a3a3a" stroke-width="1.3" stroke-linecap="butt"/>
<text x="0" y="0" font-size="6.9" font-weight="bold" text-anchor="end" fill="#000" text-rendering="geometricPrecision" transform="translate(225.30 792.65) scale(0.878 1)">0</text>
<line x1="228.30" y1="790.20" x2="335.80" y2="790.20" stroke="#3a3a3a" stroke-width="1.4" stroke-linecap="butt"/>
<text x="365.50" y="618.60" font-size="16.8" font-weight="bold" text-anchor="start" fill="#000">G</text>
<text x="375.90" y="722.10" font-size="10.1" font-weight="bold" text-anchor="middle" fill="#000" transform="rotate(-90 375.9 722.1)">NORMALISED miR-150 EXPRESSION</text>
<line x1="407.80" y1="626.80" x2="407.80" y2="660.20" stroke="#3a3a3a" stroke-width="1.5" stroke-linecap="butt"/>
<line x1="404.80" y1="627.30" x2="407.80" y2="627.30" stroke="#3a3a3a" stroke-width="1.3" stroke-linecap="butt"/>
<text x="0" y="0" font-size="6.9" font-weight="bold" text-anchor="end" fill="#000" text-rendering="geometricPrecision" transform="translate(404.20 629.75) scale(0.839 1)">140000</text>
<line x1="404.80" y1="636.10" x2="407.80" y2="636.10" stroke="#3a3a3a" stroke-width="1.3" stroke-linecap="butt"/>
<text x="0" y="0" font-size="6.9" font-weight="bold" text-anchor="end" fill="#000" text-rendering="geometricPrecision" transform="translate(404.20 638.55) scale(0.839 1)">120000</text>
<line x1="404.80" y1="644.10" x2="407.80" y2="644.10" stroke="#3a3a3a" stroke-width="1.3" stroke-linecap="butt"/>
<text x="0" y="0" font-size="6.9" font-weight="bold" text-anchor="end" fill="#000" text-rendering="geometricPrecision" transform="translate(404.20 646.55) scale(0.839 1)">100000</text>
<line x1="404.80" y1="652.00" x2="407.80" y2="652.00" stroke="#3a3a3a" stroke-width="1.3" stroke-linecap="butt"/>
<text x="0" y="0" font-size="6.9" font-weight="bold" text-anchor="end" fill="#000" text-rendering="geometricPrecision" transform="translate(404.20 654.45) scale(0.839 1)">80000</text>
<line x1="404.80" y1="660.20" x2="407.80" y2="660.20" stroke="#3a3a3a" stroke-width="1.3" stroke-linecap="butt"/>
<text x="0" y="0" font-size="6.9" font-weight="bold" text-anchor="end" fill="#000" text-rendering="geometricPrecision" transform="translate(404.20 662.65) scale(0.839 1)">60000</text>
<line x1="406.30" y1="660.20" x2="409.80" y2="660.20" stroke="#3a3a3a" stroke-width="1.3" stroke-linecap="butt"/>
<line x1="407.80" y1="666.60" x2="407.80" y2="790.00" stroke="#3a3a3a" stroke-width="1.5" stroke-linecap="butt"/>
<line x1="406.30" y1="666.60" x2="409.80" y2="666.60" stroke="#3a3a3a" stroke-width="1.3" stroke-linecap="butt"/>
<line x1="404.80" y1="666.60" x2="407.80" y2="666.60" stroke="#3a3a3a" stroke-width="1.3" stroke-linecap="butt"/>
<text x="0" y="0" font-size="6.9" font-weight="bold" text-anchor="end" fill="#000" text-rendering="geometricPrecision" transform="translate(404.20 669.05) scale(0.839 1)">60000</text>
<line x1="404.80" y1="707.80" x2="407.80" y2="707.80" stroke="#3a3a3a" stroke-width="1.3" stroke-linecap="butt"/>
<text x="0" y="0" font-size="6.9" font-weight="bold" text-anchor="end" fill="#000" text-rendering="geometricPrecision" transform="translate(404.20 710.25) scale(0.839 1)">40000</text>
<line x1="404.80" y1="749.20" x2="407.80" y2="749.20" stroke="#3a3a3a" stroke-width="1.3" stroke-linecap="butt"/>
<text x="0" y="0" font-size="6.9" font-weight="bold" text-anchor="end" fill="#000" text-rendering="geometricPrecision" transform="translate(404.20 751.65) scale(0.839 1)">20000</text>
<line x1="404.80" y1="790.00" x2="407.80" y2="790.00" stroke="#3a3a3a" stroke-width="1.3" stroke-linecap="butt"/>
<text x="0" y="0" font-size="6.9" font-weight="bold" text-anchor="end" fill="#000" text-rendering="geometricPrecision" transform="translate(404.20 792.45) scale(0.839 1)">0</text>
<line x1="407.20" y1="790.00" x2="515.70" y2="790.00" stroke="#3a3a3a" stroke-width="1.4" stroke-linecap="butt"/>
<circle cx="255.6" cy="354.4" r="2.35" fill="#000"/>
<circle cx="255.6" cy="376.7" r="2.35" fill="#000"/>
<circle cx="248.5" cy="382.9" r="2.35" fill="#000"/>
<circle cx="255.6" cy="385.3" r="2.35" fill="#000"/>
<circle cx="263.1" cy="384.2" r="2.35" fill="#000"/>
<circle cx="241.0" cy="393.1" r="2.35" fill="#000"/>
<circle cx="248.2" cy="394.5" r="2.35" fill="#000"/>
<circle cx="255.6" cy="395.0" r="2.35" fill="#000"/>
<circle cx="263.1" cy="393.4" r="2.35" fill="#000"/>
<circle cx="248.5" cy="400.6" r="2.35" fill="#000"/>
<circle cx="256.0" cy="402.5" r="2.35" fill="#000"/>
<circle cx="263.1" cy="401.4" r="2.35" fill="#000"/>
<circle cx="251.9" cy="405.8" r="2.35" fill="#000"/>
<circle cx="241.0" cy="409.6" r="2.35" fill="#000"/>
<circle cx="248.5" cy="410.0" r="2.35" fill="#000"/>
<circle cx="263.1" cy="409.8" r="2.35" fill="#000"/>
<circle cx="270.4" cy="407.7" r="2.35" fill="#000"/>
<circle cx="244.8" cy="413.5" r="2.35" fill="#000"/>
<circle cx="256.0" cy="412.3" r="2.35" fill="#000"/>
<circle cx="266.9" cy="414.8" r="2.35" fill="#000"/>
<circle cx="252.2" cy="415.8" r="2.35" fill="#000"/>
<circle cx="241.0" cy="417.9" r="2.35" fill="#000"/>
<circle cx="259.4" cy="417.1" r="2.35" fill="#000"/>
<circle cx="270.6" cy="417.9" r="2.35" fill="#000"/>
<circle cx="248.5" cy="419.3" r="2.35" fill="#000"/>
<circle cx="256.0" cy="419.6" r="2.35" fill="#000"/>
<circle cx="263.1" cy="419.3" r="2.35" fill="#000"/>
<circle cx="252.2" cy="421.7" r="2.35" fill="#000"/>
<circle cx="270.4" cy="421.9" r="2.35" fill="#000"/>
<circle cx="241.0" cy="424.0" r="2.35" fill="#000"/>
<circle cx="248.5" cy="425.2" r="2.35" fill="#000"/>
<circle cx="263.1" cy="424.2" r="2.35" fill="#000"/>
<circle cx="256.0" cy="427.7" r="2.35" fill="#000"/>
<circle cx="241.0" cy="430.6" r="2.35" fill="#000"/>
<circle cx="248.5" cy="432.0" r="2.35" fill="#000"/>
<circle cx="270.4" cy="431.7" r="2.35" fill="#000"/>
<circle cx="263.1" cy="434.0" r="2.35" fill="#000"/>
<circle cx="256.0" cy="436.2" r="2.35" fill="#000"/>
<circle cx="241.0" cy="441.0" r="2.35" fill="#000"/>
<circle cx="248.5" cy="442.7" r="2.35" fill="#000"/>
<circle cx="263.1" cy="441.9" r="2.35" fill="#000"/>
<circle cx="244.8" cy="447.9" r="2.35" fill="#000"/>
<circle cx="256.0" cy="446.2" r="2.35" fill="#000"/>
<circle cx="251.9" cy="449.6" r="2.35" fill="#000"/>
<circle cx="266.9" cy="448.5" r="2.35" fill="#000"/>
<circle cx="241.0" cy="453.1" r="2.35" fill="#000"/>
<circle cx="248.5" cy="454.2" r="2.35" fill="#000"/>
<circle cx="259.4" cy="451.3" r="2.35" fill="#000"/>
<circle cx="256.0" cy="454.2" r="2.35" fill="#000"/>
<circle cx="263.1" cy="454.2" r="2.35" fill="#000"/>
<circle cx="270.4" cy="454.2" r="2.35" fill="#000"/>
<circle cx="244.8" cy="457.7" r="2.35" fill="#000"/>
<circle cx="252.2" cy="457.7" r="2.35" fill="#000"/>
<circle cx="259.4" cy="457.7" r="2.35" fill="#000"/>
<circle cx="266.9" cy="457.1" r="2.35" fill="#000"/>
<circle cx="241.0" cy="460.2" r="2.35" fill="#000"/>
<circle cx="248.5" cy="462.3" r="2.35" fill="#000"/>
<circle cx="256.0" cy="462.3" r="2.35" fill="#000"/>
<circle cx="263.1" cy="461.7" r="2.35" fill="#000"/>
<circle cx="270.4" cy="460.2" r="2.35" fill="#000"/>
<circle cx="244.8" cy="465.2" r="2.35" fill="#000"/>
<circle cx="252.2" cy="466.3" r="2.35" fill="#000"/>
<circle cx="259.4" cy="465.2" r="2.35" fill="#000"/>
<circle cx="266.9" cy="465.8" r="2.35" fill="#000"/>
<circle cx="241.0" cy="467.5" r="2.35" fill="#000"/>
<circle cx="248.5" cy="469.8" r="2.35" fill="#000"/>
<circle cx="256.0" cy="470.4" r="2.35" fill="#000"/>
<circle cx="263.1" cy="469.8" r="2.35" fill="#000"/>
<circle cx="270.4" cy="469.2" r="2.35" fill="#000"/>
<circle cx="244.8" cy="472.7" r="2.35" fill="#000"/>
<circle cx="252.2" cy="474.4" r="2.35" fill="#000"/>
<circle cx="259.4" cy="473.6" r="2.35" fill="#000"/>
<circle cx="266.9" cy="472.1" r="2.35" fill="#000"/>
<circle cx="241.0" cy="477.1" r="2.35" fill="#000"/>
<circle cx="248.5" cy="477.3" r="2.35" fill="#000"/>
<circle cx="256.0" cy="479.0" r="2.35" fill="#000"/>
<circle cx="263.1" cy="477.3" r="2.35" fill="#000"/>
<circle cx="270.4" cy="476.7" r="2.35" fill="#000"/>
<circle cx="259.4" cy="484.1" r="2.35" fill="#000"/>
<circle cx="241.0" cy="485.8" r="2.35" fill="#000"/>
<circle cx="248.5" cy="487.1" r="2.35" fill="#000"/>
<circle cx="256.0" cy="489.8" r="2.35" fill="#000"/>
<circle cx="263.1" cy="489.0" r="2.35" fill="#000"/>
<circle cx="270.4" cy="486.7" r="2.35" fill="#000"/>
<circle cx="241.0" cy="497.3" r="2.35" fill="#000"/>
<circle cx="263.1" cy="497.7" r="2.35" fill="#000"/>
<circle cx="248.5" cy="501.4" r="2.35" fill="#000"/>
<circle cx="256.0" cy="502.1" r="2.35" fill="#000"/>
<circle cx="248.5" cy="506.7" r="2.35" fill="#000"/>
<circle cx="256.0" cy="510.4" r="2.35" fill="#000"/>
<circle cx="263.1" cy="510.2" r="2.35" fill="#000"/>
<rect x="292.6" y="376.1" width="4.6" height="4.6" fill="#000"/>
<rect x="300.0" y="381.4" width="4.6" height="4.6" fill="#000"/>
<rect x="307.2" y="381.9" width="4.6" height="4.6" fill="#000"/>
<rect x="314.9" y="380.2" width="4.6" height="4.6" fill="#000"/>
<rect x="300.0" y="414.6" width="4.6" height="4.6" fill="#000"/>
<rect x="307.5" y="416.1" width="4.6" height="4.6" fill="#000"/>
<rect x="314.9" y="416.1" width="4.6" height="4.6" fill="#000"/>
<rect x="322.3" y="411.5" width="4.6" height="4.6" fill="#000"/>
<rect x="307.5" y="427.1" width="4.6" height="4.6" fill="#000"/>
<rect x="322.3" y="428.9" width="4.6" height="4.6" fill="#000"/>
<rect x="300.0" y="432.4" width="4.6" height="4.6" fill="#000"/>
<rect x="314.9" y="433.4" width="4.6" height="4.6" fill="#000"/>
<rect x="307.5" y="435.5" width="4.6" height="4.6" fill="#000"/>
<rect x="292.6" y="438.7" width="4.6" height="4.6" fill="#000"/>
<rect x="314.9" y="439.6" width="4.6" height="4.6" fill="#000"/>
<rect x="300.0" y="443.3" width="4.6" height="4.6" fill="#000"/>
<rect x="307.5" y="443.7" width="4.6" height="4.6" fill="#000"/>
<rect x="300.0" y="447.8" width="4.6" height="4.6" fill="#000"/>
<rect x="314.9" y="452.9" width="4.6" height="4.6" fill="#000"/>
<rect x="307.5" y="453.6" width="4.6" height="4.6" fill="#000"/>
<rect x="303.7" y="456.0" width="4.6" height="4.6" fill="#000"/>
<rect x="292.6" y="459.0" width="4.6" height="4.6" fill="#000"/>
<rect x="322.3" y="457.4" width="4.6" height="4.6" fill="#000"/>
<rect x="298.6" y="461.3" width="4.6" height="4.6" fill="#000"/>
<rect x="307.5" y="461.3" width="4.6" height="4.6" fill="#000"/>
<rect x="314.9" y="461.3" width="4.6" height="4.6" fill="#000"/>
<rect x="296.2" y="465.7" width="4.6" height="4.6" fill="#000"/>
<rect x="303.9" y="465.7" width="4.6" height="4.6" fill="#000"/>
<rect x="311.1" y="464.2" width="4.6" height="4.6" fill="#000"/>
<rect x="317.8" y="465.2" width="4.6" height="4.6" fill="#000"/>
<rect x="292.6" y="468.1" width="4.6" height="4.6" fill="#000"/>
<rect x="300.0" y="469.5" width="4.6" height="4.6" fill="#000"/>
<rect x="307.5" y="469.5" width="4.6" height="4.6" fill="#000"/>
<rect x="314.9" y="469.5" width="4.6" height="4.6" fill="#000"/>
<rect x="322.3" y="468.1" width="4.6" height="4.6" fill="#000"/>
<rect x="322.3" y="474.3" width="4.6" height="4.6" fill="#000"/>
<rect x="292.6" y="477.2" width="4.6" height="4.6" fill="#000"/>
<rect x="300.0" y="477.2" width="4.6" height="4.6" fill="#000"/>
<rect x="314.9" y="476.7" width="4.6" height="4.6" fill="#000"/>
<rect x="306.3" y="479.6" width="4.6" height="4.6" fill="#000"/>
<rect x="303.4" y="481.5" width="4.6" height="4.6" fill="#000"/>
<rect x="309.1" y="481.5" width="4.6" height="4.6" fill="#000"/>
<rect x="296.2" y="482.3" width="4.6" height="4.6" fill="#000"/>
<rect x="317.8" y="482.3" width="4.6" height="4.6" fill="#000"/>
<rect x="292.6" y="485.2" width="4.6" height="4.6" fill="#000"/>
<rect x="300.0" y="485.2" width="4.6" height="4.6" fill="#000"/>
<rect x="307.5" y="484.2" width="4.6" height="4.6" fill="#000"/>
<rect x="314.9" y="485.2" width="4.6" height="4.6" fill="#000"/>
<rect x="322.3" y="485.2" width="4.6" height="4.6" fill="#000"/>
<rect x="303.9" y="488.1" width="4.6" height="4.6" fill="#000"/>
<rect x="311.1" y="488.1" width="4.6" height="4.6" fill="#000"/>
<rect x="307.5" y="490.0" width="4.6" height="4.6" fill="#000"/>
<rect x="292.6" y="491.5" width="4.6" height="4.6" fill="#000"/>
<rect x="322.3" y="491.5" width="4.6" height="4.6" fill="#000"/>
<rect x="314.9" y="492.9" width="4.6" height="4.6" fill="#000"/>
<rect x="300.0" y="494.3" width="4.6" height="4.6" fill="#000"/>
<rect x="307.5" y="495.3" width="4.6" height="4.6" fill="#000"/>
<rect x="311.1" y="497.2" width="4.6" height="4.6" fill="#000"/>
<rect x="292.6" y="497.7" width="4.6" height="4.6" fill="#000"/>
<rect x="322.3" y="498.7" width="4.6" height="4.6" fill="#000"/>
<rect x="300.0" y="500.6" width="4.6" height="4.6" fill="#000"/>
<rect x="314.9" y="500.6" width="4.6" height="4.6" fill="#000"/>
<rect x="307.5" y="503.5" width="4.6" height="4.6" fill="#000"/>
<circle cx="435.6" cy="352.1" r="2.15" fill="#000"/>
<circle cx="435.6" cy="372.5" r="2.15" fill="#000"/>
<circle cx="428.8" cy="379.8" r="2.15" fill="#000"/>
<circle cx="435.6" cy="380.2" r="2.15" fill="#000"/>
<circle cx="442.3" cy="377.5" r="2.15" fill="#000"/>
<circle cx="428.8" cy="387.1" r="2.15" fill="#000"/>
<circle cx="435.6" cy="388.5" r="2.15" fill="#000"/>
<circle cx="442.3" cy="388.2" r="2.15" fill="#000"/>
<circle cx="449.0" cy="386.7" r="2.15" fill="#000"/>
<circle cx="428.8" cy="396.0" r="2.15" fill="#000"/>
<circle cx="435.6" cy="396.9" r="2.15" fill="#000"/>
<circle cx="442.3" cy="395.2" r="2.15" fill="#000"/>
<circle cx="438.8" cy="402.5" r="2.15" fill="#000"/>
<circle cx="422.1" cy="404.6" r="2.15" fill="#000"/>
<circle cx="428.8" cy="405.4" r="2.15" fill="#000"/>
<circle cx="449.0" cy="404.8" r="2.15" fill="#000"/>
<circle cx="442.3" cy="407.5" r="2.15" fill="#000"/>
<circle cx="425.6" cy="409.8" r="2.15" fill="#000"/>
<circle cx="435.6" cy="408.7" r="2.15" fill="#000"/>
<circle cx="438.8" cy="411.0" r="2.15" fill="#000"/>
<circle cx="422.1" cy="412.9" r="2.15" fill="#000"/>
<circle cx="432.2" cy="412.5" r="2.15" fill="#000"/>
<circle cx="449.0" cy="412.9" r="2.15" fill="#000"/>
<circle cx="428.8" cy="415.0" r="2.15" fill="#000"/>
<circle cx="435.6" cy="415.6" r="2.15" fill="#000"/>
<circle cx="442.3" cy="414.8" r="2.15" fill="#000"/>
<circle cx="422.1" cy="417.1" r="2.15" fill="#000"/>
<circle cx="428.8" cy="419.4" r="2.15" fill="#000"/>
<circle cx="449.0" cy="419.4" r="2.15" fill="#000"/>
<circle cx="442.3" cy="420.8" r="2.15" fill="#000"/>
<circle cx="435.6" cy="423.4" r="2.15" fill="#000"/>
<circle cx="428.8" cy="428.3" r="2.15" fill="#000"/>
<circle cx="442.3" cy="427.7" r="2.15" fill="#000"/>
<circle cx="435.6" cy="431.2" r="2.15" fill="#000"/>
<circle cx="449.0" cy="432.7" r="2.15" fill="#000"/>
<circle cx="422.1" cy="439.5" r="2.15" fill="#000"/>
<circle cx="428.8" cy="437.5" r="2.15" fill="#000"/>
<circle cx="435.6" cy="438.7" r="2.15" fill="#000"/>
<circle cx="442.3" cy="438.3" r="2.15" fill="#000"/>
<circle cx="428.8" cy="444.8" r="2.15" fill="#000"/>
<circle cx="435.6" cy="445.6" r="2.15" fill="#000"/>
<circle cx="442.3" cy="443.3" r="2.15" fill="#000"/>
<circle cx="425.6" cy="451.7" r="2.15" fill="#000"/>
<circle cx="432.2" cy="451.0" r="2.15" fill="#000"/>
<circle cx="435.6" cy="450.2" r="2.15" fill="#000"/>
<circle cx="438.8" cy="451.9" r="2.15" fill="#000"/>
<circle cx="445.5" cy="451.7" r="2.15" fill="#000"/>
<circle cx="422.1" cy="454.2" r="2.15" fill="#000"/>
<circle cx="428.8" cy="455.2" r="2.15" fill="#000"/>
<circle cx="435.6" cy="455.6" r="2.15" fill="#000"/>
<circle cx="442.3" cy="454.8" r="2.15" fill="#000"/>
<circle cx="449.0" cy="454.2" r="2.15" fill="#000"/>
<circle cx="425.6" cy="457.7" r="2.15" fill="#000"/>
<circle cx="432.2" cy="459.8" r="2.15" fill="#000"/>
<circle cx="438.8" cy="459.1" r="2.15" fill="#000"/>
<circle cx="445.5" cy="457.5" r="2.15" fill="#000"/>
<circle cx="422.1" cy="461.7" r="2.15" fill="#000"/>
<circle cx="428.8" cy="462.9" r="2.15" fill="#000"/>
<circle cx="435.6" cy="462.3" r="2.15" fill="#000"/>
<circle cx="442.3" cy="462.1" r="2.15" fill="#000"/>
<circle cx="449.0" cy="460.2" r="2.15" fill="#000"/>
<circle cx="425.6" cy="464.4" r="2.15" fill="#000"/>
<circle cx="432.2" cy="465.0" r="2.15" fill="#000"/>
<circle cx="438.8" cy="465.2" r="2.15" fill="#000"/>
<circle cx="445.5" cy="464.6" r="2.15" fill="#000"/>
<circle cx="422.1" cy="466.9" r="2.15" fill="#000"/>
<circle cx="428.8" cy="469.0" r="2.15" fill="#000"/>
<circle cx="435.6" cy="470.6" r="2.15" fill="#000"/>
<circle cx="442.3" cy="470.2" r="2.15" fill="#000"/>
<circle cx="449.0" cy="467.5" r="2.15" fill="#000"/>
<circle cx="432.2" cy="472.5" r="2.15" fill="#000"/>
<circle cx="449.0" cy="472.9" r="2.15" fill="#000"/>
<circle cx="422.1" cy="475.6" r="2.15" fill="#000"/>
<circle cx="428.8" cy="475.9" r="2.15" fill="#000"/>
<circle cx="442.3" cy="475.6" r="2.15" fill="#000"/>
<circle cx="435.6" cy="477.9" r="2.15" fill="#000"/>
<circle cx="425.6" cy="484.4" r="2.15" fill="#000"/>
<circle cx="432.2" cy="483.8" r="2.15" fill="#000"/>
<circle cx="435.6" cy="482.5" r="2.15" fill="#000"/>
<circle cx="438.8" cy="484.4" r="2.15" fill="#000"/>
<circle cx="445.5" cy="484.4" r="2.15" fill="#000"/>
<circle cx="422.1" cy="486.4" r="2.15" fill="#000"/>
<circle cx="428.8" cy="487.9" r="2.15" fill="#000"/>
<circle cx="435.6" cy="488.7" r="2.15" fill="#000"/>
<circle cx="442.3" cy="488.5" r="2.15" fill="#000"/>
<circle cx="449.0" cy="487.3" r="2.15" fill="#000"/>
<circle cx="422.1" cy="496.8" r="2.15" fill="#000"/>
<circle cx="428.8" cy="499.4" r="2.15" fill="#000"/>
<circle cx="435.6" cy="501.2" r="2.15" fill="#000"/>
<circle cx="442.3" cy="497.1" r="2.15" fill="#000"/>
<circle cx="428.8" cy="506.3" r="2.15" fill="#000"/>
<circle cx="435.6" cy="510.4" r="2.15" fill="#000"/>
<circle cx="442.3" cy="510.2" r="2.15" fill="#000"/>
<rect x="481.0" y="375.6" width="4.2" height="4.2" fill="#000"/>
<rect x="487.7" y="377.0" width="4.2" height="4.2" fill="#000"/>
<rect x="494.6" y="376.6" width="4.2" height="4.2" fill="#000"/>
<rect x="501.2" y="371.7" width="4.2" height="4.2" fill="#000"/>
<rect x="487.7" y="398.0" width="4.2" height="4.2" fill="#000"/>
<rect x="487.7" y="406.8" width="4.2" height="4.2" fill="#000"/>
<rect x="474.4" y="410.2" width="4.2" height="4.2" fill="#000"/>
<rect x="481.0" y="411.9" width="4.2" height="4.2" fill="#000"/>
<rect x="494.6" y="411.8" width="4.2" height="4.2" fill="#000"/>
<rect x="487.7" y="415.3" width="4.2" height="4.2" fill="#000"/>
<rect x="481.0" y="423.3" width="4.2" height="4.2" fill="#000"/>
<rect x="487.7" y="424.9" width="4.2" height="4.2" fill="#000"/>
<rect x="494.6" y="424.4" width="4.2" height="4.2" fill="#000"/>
<rect x="494.6" y="428.3" width="4.2" height="4.2" fill="#000"/>
<rect x="481.0" y="429.7" width="4.2" height="4.2" fill="#000"/>
<rect x="487.7" y="431.9" width="4.2" height="4.2" fill="#000"/>
<rect x="481.0" y="435.5" width="4.2" height="4.2" fill="#000"/>
<rect x="487.7" y="440.8" width="4.2" height="4.2" fill="#000"/>
<rect x="494.6" y="440.3" width="4.2" height="4.2" fill="#000"/>
<rect x="474.4" y="444.4" width="4.2" height="4.2" fill="#000"/>
<rect x="494.6" y="445.1" width="4.2" height="4.2" fill="#000"/>
<rect x="481.0" y="447.0" width="4.2" height="4.2" fill="#000"/>
<rect x="487.7" y="449.7" width="4.2" height="4.2" fill="#000"/>
<rect x="501.2" y="450.2" width="4.2" height="4.2" fill="#000"/>
<rect x="481.0" y="453.5" width="4.2" height="4.2" fill="#000"/>
<rect x="494.6" y="454.7" width="4.2" height="4.2" fill="#000"/>
<rect x="487.7" y="456.7" width="4.2" height="4.2" fill="#000"/>
<rect x="479.2" y="460.0" width="4.2" height="4.2" fill="#000"/>
<rect x="486.0" y="460.0" width="4.2" height="4.2" fill="#000"/>
<rect x="490.8" y="460.0" width="4.2" height="4.2" fill="#000"/>
<rect x="496.6" y="460.0" width="4.2" height="4.2" fill="#000"/>
<rect x="474.4" y="463.5" width="4.2" height="4.2" fill="#000"/>
<rect x="484.1" y="462.0" width="4.2" height="4.2" fill="#000"/>
<rect x="491.7" y="462.0" width="4.2" height="4.2" fill="#000"/>
<rect x="501.2" y="463.5" width="4.2" height="4.2" fill="#000"/>
<rect x="474.4" y="467.3" width="4.2" height="4.2" fill="#000"/>
<rect x="481.0" y="467.3" width="4.2" height="4.2" fill="#000"/>
<rect x="487.7" y="466.4" width="4.2" height="4.2" fill="#000"/>
<rect x="494.6" y="467.3" width="4.2" height="4.2" fill="#000"/>
<rect x="501.2" y="467.3" width="4.2" height="4.2" fill="#000"/>
<rect x="487.7" y="472.6" width="4.2" height="4.2" fill="#000"/>
<rect x="494.6" y="473.1" width="4.2" height="4.2" fill="#000"/>
<rect x="484.1" y="475.5" width="4.2" height="4.2" fill="#000"/>
<rect x="501.2" y="476.0" width="4.2" height="4.2" fill="#000"/>
<rect x="474.4" y="478.1" width="4.2" height="4.2" fill="#000"/>
<rect x="491.7" y="476.5" width="4.2" height="4.2" fill="#000"/>
<rect x="481.0" y="480.8" width="4.2" height="4.2" fill="#000"/>
<rect x="487.7" y="480.8" width="4.2" height="4.2" fill="#000"/>
<rect x="494.6" y="480.3" width="4.2" height="4.2" fill="#000"/>
<rect x="474.4" y="484.2" width="4.2" height="4.2" fill="#000"/>
<rect x="484.1" y="483.7" width="4.2" height="4.2" fill="#000"/>
<rect x="491.7" y="483.7" width="4.2" height="4.2" fill="#000"/>
<rect x="501.2" y="484.2" width="4.2" height="4.2" fill="#000"/>
<rect x="481.0" y="487.5" width="4.2" height="4.2" fill="#000"/>
<rect x="487.7" y="488.5" width="4.2" height="4.2" fill="#000"/>
<rect x="494.6" y="488.0" width="4.2" height="4.2" fill="#000"/>
<rect x="474.4" y="490.9" width="4.2" height="4.2" fill="#000"/>
<rect x="501.2" y="490.4" width="4.2" height="4.2" fill="#000"/>
<rect x="481.0" y="494.2" width="4.2" height="4.2" fill="#000"/>
<rect x="487.7" y="494.7" width="4.2" height="4.2" fill="#000"/>
<rect x="494.6" y="492.3" width="4.2" height="4.2" fill="#000"/>
<rect x="490.8" y="497.1" width="4.2" height="4.2" fill="#000"/>
<rect x="474.4" y="498.9" width="4.2" height="4.2" fill="#000"/>
<rect x="501.2" y="499.5" width="4.2" height="4.2" fill="#000"/>
<rect x="481.0" y="500.5" width="4.2" height="4.2" fill="#000"/>
<rect x="494.6" y="500.5" width="4.2" height="4.2" fill="#000"/>
<rect x="487.7" y="503.4" width="4.2" height="4.2" fill="#000"/>
<circle cx="61.2" cy="636.0" r="2.00" fill="#000"/>
<circle cx="67.3" cy="656.4" r="2.00" fill="#000"/>
<circle cx="54.8" cy="660.2" r="2.00" fill="#000"/>
<circle cx="61.2" cy="660.4" r="2.00" fill="#000"/>
<circle cx="67.3" cy="669.4" r="2.00" fill="#000"/>
<circle cx="61.2" cy="671.4" r="2.00" fill="#000"/>
<circle cx="61.2" cy="677.8" r="2.00" fill="#000"/>
<circle cx="54.8" cy="686.7" r="2.00" fill="#000"/>
<circle cx="57.9" cy="686.0" r="2.00" fill="#000"/>
<circle cx="64.0" cy="686.3" r="2.00" fill="#000"/>
<circle cx="61.2" cy="691.0" r="2.00" fill="#000"/>
<circle cx="57.9" cy="692.1" r="2.00" fill="#000"/>
<circle cx="67.5" cy="690.4" r="2.00" fill="#000"/>
<circle cx="67.5" cy="693.6" r="2.00" fill="#000"/>
<circle cx="54.8" cy="695.0" r="2.00" fill="#000"/>
<circle cx="61.2" cy="697.9" r="2.00" fill="#000"/>
<circle cx="64.0" cy="700.2" r="2.00" fill="#000"/>
<circle cx="54.8" cy="700.5" r="2.00" fill="#000"/>
<circle cx="67.5" cy="704.2" r="2.00" fill="#000"/>
<circle cx="61.2" cy="706.3" r="2.00" fill="#000"/>
<circle cx="54.8" cy="711.2" r="2.00" fill="#000"/>
<circle cx="61.2" cy="714.6" r="2.00" fill="#000"/>
<circle cx="61.2" cy="724.2" r="2.00" fill="#000"/>
<circle cx="67.5" cy="723.3" r="2.00" fill="#000"/>
<circle cx="64.0" cy="729.0" r="2.00" fill="#000"/>
<circle cx="57.9" cy="731.3" r="2.00" fill="#000"/>
<circle cx="54.8" cy="733.7" r="2.00" fill="#000"/>
<circle cx="67.5" cy="733.1" r="2.00" fill="#000"/>
<circle cx="61.2" cy="735.2" r="2.00" fill="#000"/>
<circle cx="61.2" cy="741.5" r="2.00" fill="#000"/>
<circle cx="57.9" cy="743.8" r="2.00" fill="#000"/>
<circle cx="64.0" cy="743.8" r="2.00" fill="#000"/>
<circle cx="54.8" cy="746.2" r="2.00" fill="#000"/>
<circle cx="67.5" cy="746.7" r="2.00" fill="#000"/>
<circle cx="61.2" cy="747.3" r="2.00" fill="#000"/>
<circle cx="57.9" cy="750.2" r="2.00" fill="#000"/>
<circle cx="64.0" cy="750.2" r="2.00" fill="#000"/>
<circle cx="54.8" cy="754.2" r="2.00" fill="#000"/>
<circle cx="61.2" cy="754.2" r="2.00" fill="#000"/>
<circle cx="67.5" cy="754.2" r="2.00" fill="#000"/>
<circle cx="57.9" cy="760.6" r="2.00" fill="#000"/>
<circle cx="64.0" cy="760.6" r="2.00" fill="#000"/>
<circle cx="54.8" cy="763.5" r="2.00" fill="#000"/>
<circle cx="67.5" cy="764.0" r="2.00" fill="#000"/>
<circle cx="61.2" cy="766.9" r="2.00" fill="#000"/>
<circle cx="57.9" cy="775.0" r="2.00" fill="#000"/>
<circle cx="67.5" cy="777.1" r="2.00" fill="#000"/>
<circle cx="54.8" cy="779.0" r="2.00" fill="#000"/>
<circle cx="61.2" cy="779.6" r="2.00" fill="#000"/>
<circle cx="61.2" cy="787.1" r="2.00" fill="#000"/>
<rect x="85.2" y="653.3" width="3.8" height="3.8" fill="#000"/>
<rect x="91.6" y="659.1" width="3.8" height="3.8" fill="#000"/>
<rect x="85.2" y="660.6" width="3.8" height="3.8" fill="#000"/>
<rect x="85.2" y="667.3" width="3.8" height="3.8" fill="#000"/>
<rect x="85.2" y="675.0" width="3.8" height="3.8" fill="#000"/>
<rect x="79.1" y="677.0" width="3.8" height="3.8" fill="#000"/>
<rect x="85.2" y="681.7" width="3.8" height="3.8" fill="#000"/>
<rect x="78.9" y="678.6" width="3.8" height="3.8" fill="#000"/>
<rect x="88.4" y="688.3" width="3.8" height="3.8" fill="#000"/>
<rect x="78.9" y="692.9" width="3.8" height="3.8" fill="#000"/>
<rect x="85.2" y="694.3" width="3.8" height="3.8" fill="#000"/>
<rect x="91.6" y="694.0" width="3.8" height="3.8" fill="#000"/>
<rect x="82.1" y="705.2" width="3.8" height="3.8" fill="#000"/>
<rect x="91.6" y="705.6" width="3.8" height="3.8" fill="#000"/>
<rect x="78.9" y="709.8" width="3.8" height="3.8" fill="#000"/>
<rect x="85.2" y="710.4" width="3.8" height="3.8" fill="#000"/>
<rect x="78.9" y="715.6" width="3.8" height="3.8" fill="#000"/>
<rect x="91.6" y="715.6" width="3.8" height="3.8" fill="#000"/>
<rect x="85.2" y="717.9" width="3.8" height="3.8" fill="#000"/>
<rect x="78.9" y="720.8" width="3.8" height="3.8" fill="#000"/>
<rect x="85.2" y="724.5" width="3.8" height="3.8" fill="#000"/>
<rect x="82.3" y="728.9" width="3.8" height="3.8" fill="#000"/>
<rect x="88.1" y="728.9" width="3.8" height="3.8" fill="#000"/>
<rect x="78.9" y="731.8" width="3.8" height="3.8" fill="#000"/>
<rect x="85.2" y="732.3" width="3.8" height="3.8" fill="#000"/>
<rect x="91.6" y="732.9" width="3.8" height="3.8" fill="#000"/>
<rect x="78.9" y="738.5" width="3.8" height="3.8" fill="#000"/>
<rect x="85.2" y="739.6" width="3.8" height="3.8" fill="#000"/>
<rect x="91.6" y="739.6" width="3.8" height="3.8" fill="#000"/>
<rect x="78.9" y="744.3" width="3.8" height="3.8" fill="#000"/>
<rect x="85.2" y="747.1" width="3.8" height="3.8" fill="#000"/>
<rect x="91.6" y="746.6" width="3.8" height="3.8" fill="#000"/>
<rect x="88.1" y="743.1" width="3.8" height="3.8" fill="#000"/>
<rect x="78.9" y="754.9" width="3.8" height="3.8" fill="#000"/>
<rect x="85.2" y="755.2" width="3.8" height="3.8" fill="#000"/>
<rect x="78.9" y="761.0" width="3.8" height="3.8" fill="#000"/>
<rect x="85.2" y="762.7" width="3.8" height="3.8" fill="#000"/>
<rect x="91.6" y="761.6" width="3.8" height="3.8" fill="#000"/>
<rect x="85.2" y="772.5" width="3.8" height="3.8" fill="#000"/>
<rect x="91.6" y="778.6" width="3.8" height="3.8" fill="#000"/>
<rect x="85.2" y="781.8" width="3.8" height="3.8" fill="#000"/>
<polygon points="111.1,664.0 115.3,664.0 113.2,660.2" fill="#000"/>
<polygon points="111.1,673.2 115.3,673.2 113.2,669.4" fill="#000"/>
<polygon points="111.1,691.7 115.3,691.7 113.2,687.9" fill="#000"/>
<polygon points="111.1,696.7 115.3,696.7 113.2,692.9" fill="#000"/>
<polygon points="105.9,699.2 110.1,699.2 108.0,695.4" fill="#000"/>
<polygon points="116.2,700.9 120.4,700.9 118.3,697.1" fill="#000"/>
<polygon points="111.1,704.6 115.3,704.6 113.2,700.8" fill="#000"/>
<polygon points="105.9,711.0 110.1,711.0 108.0,707.2" fill="#000"/>
<polygon points="111.1,715.6 115.3,715.6 113.2,711.8" fill="#000"/>
<polygon points="111.1,724.8 115.3,724.8 113.2,721.0" fill="#000"/>
<polygon points="105.9,728.3 110.1,728.3 108.0,724.5" fill="#000"/>
<polygon points="111.1,732.4 115.3,732.4 113.2,728.6" fill="#000"/>
<polygon points="116.2,734.2 120.4,734.2 118.3,730.4" fill="#000"/>
<polygon points="111.1,739.0 115.3,739.0 113.2,735.2" fill="#000"/>
<polygon points="116.2,742.1 120.4,742.1 118.3,738.3" fill="#000"/>
<polygon points="105.9,743.3 110.1,743.3 108.0,739.5" fill="#000"/>
<polygon points="111.1,744.4 115.3,744.4 113.2,740.6" fill="#000"/>
<polygon points="116.2,748.6 120.4,748.6 118.3,744.8" fill="#000"/>
<polygon points="111.1,751.7 115.3,751.7 113.2,747.9" fill="#000"/>
<polygon points="111.1,756.9 115.3,756.9 113.2,753.1" fill="#000"/>
<polygon points="105.9,765.2 110.1,765.2 108.0,761.4" fill="#000"/>
<polygon points="116.2,768.4 120.4,768.4 118.3,764.6" fill="#000"/>
<polygon points="111.1,770.5 115.3,770.5 113.2,766.7" fill="#000"/>
<polygon points="111.1,777.9 115.3,777.9 113.2,774.1" fill="#000"/>
<polygon points="111.1,785.5 115.3,785.5 113.2,781.7" fill="#000"/>
<polygon points="137.3,732.9 141.5,732.9 139.4,736.7" fill="#000"/>
<polygon points="132.1,754.5 136.3,754.5 134.2,758.3" fill="#000"/>
<polygon points="137.3,756.6 141.5,756.6 139.4,760.4" fill="#000"/>
<polygon points="137.3,761.8 141.5,761.8 139.4,765.6" fill="#000"/>
<polygon points="142.3,761.8 146.5,761.8 144.4,765.6" fill="#000"/>
<polygon points="137.3,768.7 141.5,768.7 139.4,772.5" fill="#000"/>
<polygon points="132.1,774.8 136.3,774.8 134.2,778.6" fill="#000"/>
<polygon points="142.3,776.4 146.5,776.4 144.4,780.2" fill="#000"/>
<polygon points="137.3,778.3 141.5,778.3 139.4,782.1" fill="#000"/>
<circle cx="255.2" cy="635.0" r="2.15" fill="#000"/>
<circle cx="248.8" cy="661.5" r="2.15" fill="#000"/>
<circle cx="255.2" cy="662.2" r="2.15" fill="#000"/>
<circle cx="261.7" cy="659.9" r="2.15" fill="#000"/>
<circle cx="255.2" cy="669.4" r="2.15" fill="#000"/>
<circle cx="261.7" cy="668.9" r="2.15" fill="#000"/>
<circle cx="248.8" cy="678.4" r="2.15" fill="#000"/>
<circle cx="255.2" cy="676.8" r="2.15" fill="#000"/>
<circle cx="268.3" cy="677.4" r="2.15" fill="#000"/>
<circle cx="261.7" cy="681.8" r="2.15" fill="#000"/>
<circle cx="255.2" cy="683.5" r="2.15" fill="#000"/>
<circle cx="252.0" cy="686.4" r="2.15" fill="#000"/>
<circle cx="258.6" cy="686.4" r="2.15" fill="#000"/>
<circle cx="268.3" cy="686.7" r="2.15" fill="#000"/>
<circle cx="242.2" cy="689.0" r="2.15" fill="#000"/>
<circle cx="248.8" cy="690.1" r="2.15" fill="#000"/>
<circle cx="261.7" cy="689.9" r="2.15" fill="#000"/>
<circle cx="255.2" cy="691.2" r="2.15" fill="#000"/>
<circle cx="245.7" cy="693.5" r="2.15" fill="#000"/>
<circle cx="252.0" cy="694.5" r="2.15" fill="#000"/>
<circle cx="258.6" cy="694.9" r="2.15" fill="#000"/>
<circle cx="264.9" cy="694.1" r="2.15" fill="#000"/>
<circle cx="242.2" cy="695.9" r="2.15" fill="#000"/>
<circle cx="248.8" cy="697.0" r="2.15" fill="#000"/>
<circle cx="268.3" cy="696.2" r="2.15" fill="#000"/>
<circle cx="255.2" cy="698.8" r="2.15" fill="#000"/>
<circle cx="261.7" cy="698.3" r="2.15" fill="#000"/>
<circle cx="261.7" cy="701.7" r="2.15" fill="#000"/>
<circle cx="242.2" cy="700.9" r="2.15" fill="#000"/>
<circle cx="268.3" cy="700.9" r="2.15" fill="#000"/>
<circle cx="248.8" cy="704.7" r="2.15" fill="#000"/>
<circle cx="255.2" cy="706.5" r="2.15" fill="#000"/>
<circle cx="258.6" cy="707.5" r="2.15" fill="#000"/>
<circle cx="242.2" cy="707.9" r="2.15" fill="#000"/>
<circle cx="268.3" cy="708.9" r="2.15" fill="#000"/>
<circle cx="248.8" cy="711.8" r="2.15" fill="#000"/>
<circle cx="261.7" cy="712.3" r="2.15" fill="#000"/>
<circle cx="255.2" cy="713.6" r="2.15" fill="#000"/>
<circle cx="242.2" cy="718.1" r="2.15" fill="#000"/>
<circle cx="248.8" cy="719.2" r="2.15" fill="#000"/>
<circle cx="255.2" cy="719.9" r="2.15" fill="#000"/>
<circle cx="261.7" cy="718.9" r="2.15" fill="#000"/>
<circle cx="268.3" cy="718.1" r="2.15" fill="#000"/>
<circle cx="242.2" cy="723.4" r="2.15" fill="#000"/>
<circle cx="268.3" cy="723.4" r="2.15" fill="#000"/>
<circle cx="248.8" cy="725.4" r="2.15" fill="#000"/>
<circle cx="255.2" cy="727.0" r="2.15" fill="#000"/>
<circle cx="261.7" cy="726.3" r="2.15" fill="#000"/>
<circle cx="245.7" cy="731.8" r="2.15" fill="#000"/>
<circle cx="252.0" cy="732.3" r="2.15" fill="#000"/>
<circle cx="258.6" cy="731.8" r="2.15" fill="#000"/>
<circle cx="264.9" cy="731.8" r="2.15" fill="#000"/>
<circle cx="242.2" cy="734.4" r="2.15" fill="#000"/>
<circle cx="248.8" cy="735.5" r="2.15" fill="#000"/>
<circle cx="255.2" cy="733.9" r="2.15" fill="#000"/>
<circle cx="261.7" cy="734.9" r="2.15" fill="#000"/>
<circle cx="268.3" cy="734.4" r="2.15" fill="#000"/>
<circle cx="245.7" cy="738.6" r="2.15" fill="#000"/>
<circle cx="252.0" cy="739.2" r="2.15" fill="#000"/>
<circle cx="258.6" cy="739.2" r="2.15" fill="#000"/>
<circle cx="264.9" cy="738.6" r="2.15" fill="#000"/>
<circle cx="242.2" cy="742.3" r="2.15" fill="#000"/>
<circle cx="248.8" cy="742.9" r="2.15" fill="#000"/>
<circle cx="255.2" cy="741.8" r="2.15" fill="#000"/>
<circle cx="261.7" cy="742.9" r="2.15" fill="#000"/>
<circle cx="268.3" cy="742.3" r="2.15" fill="#000"/>
<circle cx="245.7" cy="746.0" r="2.15" fill="#000"/>
<circle cx="252.0" cy="746.3" r="2.15" fill="#000"/>
<circle cx="258.6" cy="746.3" r="2.15" fill="#000"/>
<circle cx="264.9" cy="746.0" r="2.15" fill="#000"/>
<circle cx="242.2" cy="749.2" r="2.15" fill="#000"/>
<circle cx="248.8" cy="750.3" r="2.15" fill="#000"/>
<circle cx="255.2" cy="749.7" r="2.15" fill="#000"/>
<circle cx="261.7" cy="749.5" r="2.15" fill="#000"/>
<circle cx="268.3" cy="747.6" r="2.15" fill="#000"/>
<circle cx="252.0" cy="752.4" r="2.15" fill="#000"/>
<circle cx="258.6" cy="752.7" r="2.15" fill="#000"/>
<circle cx="242.2" cy="755.2" r="2.15" fill="#000"/>
<circle cx="248.8" cy="755.5" r="2.15" fill="#000"/>
<circle cx="268.3" cy="755.5" r="2.15" fill="#000"/>
<circle cx="255.2" cy="758.0" r="2.15" fill="#000"/>
<circle cx="261.7" cy="758.0" r="2.15" fill="#000"/>
<circle cx="245.7" cy="761.9" r="2.15" fill="#000"/>
<circle cx="252.0" cy="761.9" r="2.15" fill="#000"/>
<circle cx="258.6" cy="761.9" r="2.15" fill="#000"/>
<circle cx="264.9" cy="761.9" r="2.15" fill="#000"/>
<circle cx="242.2" cy="764.3" r="2.15" fill="#000"/>
<circle cx="248.8" cy="764.7" r="2.15" fill="#000"/>
<circle cx="255.2" cy="765.6" r="2.15" fill="#000"/>
<circle cx="261.7" cy="764.3" r="2.15" fill="#000"/>
<circle cx="268.3" cy="763.5" r="2.15" fill="#000"/>
<circle cx="242.2" cy="768.5" r="2.15" fill="#000"/>
<circle cx="248.8" cy="769.6" r="2.15" fill="#000"/>
<circle cx="252.0" cy="767.5" r="2.15" fill="#000"/>
<circle cx="258.6" cy="768.2" r="2.15" fill="#000"/>
<circle cx="264.9" cy="766.6" r="2.15" fill="#000"/>
<circle cx="261.7" cy="770.3" r="2.15" fill="#000"/>
<circle cx="268.3" cy="769.3" r="2.15" fill="#000"/>
<circle cx="255.2" cy="772.1" r="2.15" fill="#000"/>
<circle cx="242.2" cy="777.0" r="2.15" fill="#000"/>
<circle cx="252.0" cy="776.2" r="2.15" fill="#000"/>
<circle cx="258.6" cy="775.6" r="2.15" fill="#000"/>
<circle cx="268.3" cy="776.7" r="2.15" fill="#000"/>
<circle cx="248.8" cy="780.6" r="2.15" fill="#000"/>
<circle cx="255.2" cy="781.2" r="2.15" fill="#000"/>
<circle cx="261.7" cy="780.4" r="2.15" fill="#000"/>
<circle cx="255.2" cy="789.4" r="2.15" fill="#000"/>
<circle cx="261.7" cy="789.1" r="2.15" fill="#000"/>
<rect x="293.5" y="653.9" width="4.2" height="4.2" fill="#000"/>
<rect x="300.0" y="658.7" width="4.2" height="4.2" fill="#000"/>
<rect x="306.5" y="659.2" width="4.2" height="4.2" fill="#000"/>
<rect x="312.9" y="657.7" width="4.2" height="4.2" fill="#000"/>
<rect x="319.4" y="652.7" width="4.2" height="4.2" fill="#000"/>
<rect x="306.5" y="668.9" width="4.2" height="4.2" fill="#000"/>
<rect x="312.9" y="668.6" width="4.2" height="4.2" fill="#000"/>
<rect x="300.0" y="693.3" width="4.2" height="4.2" fill="#000"/>
<rect x="306.5" y="693.6" width="4.2" height="4.2" fill="#000"/>
<rect x="300.0" y="706.4" width="4.2" height="4.2" fill="#000"/>
<rect x="306.5" y="713.0" width="4.2" height="4.2" fill="#000"/>
<rect x="312.9" y="710.7" width="4.2" height="4.2" fill="#000"/>
<rect x="306.5" y="721.0" width="4.2" height="4.2" fill="#000"/>
<rect x="319.4" y="725.8" width="4.2" height="4.2" fill="#000"/>
<rect x="300.0" y="727.7" width="4.2" height="4.2" fill="#000"/>
<rect x="306.5" y="731.7" width="4.2" height="4.2" fill="#000"/>
<rect x="312.9" y="730.6" width="4.2" height="4.2" fill="#000"/>
<rect x="312.9" y="734.0" width="4.2" height="4.2" fill="#000"/>
<rect x="300.0" y="735.2" width="4.2" height="4.2" fill="#000"/>
<rect x="306.5" y="739.7" width="4.2" height="4.2" fill="#000"/>
<rect x="296.4" y="742.9" width="4.2" height="4.2" fill="#000"/>
<rect x="303.1" y="743.6" width="4.2" height="4.2" fill="#000"/>
<rect x="308.9" y="742.6" width="4.2" height="4.2" fill="#000"/>
<rect x="316.1" y="743.1" width="4.2" height="4.2" fill="#000"/>
<rect x="292.5" y="745.5" width="4.2" height="4.2" fill="#000"/>
<rect x="319.4" y="745.5" width="4.2" height="4.2" fill="#000"/>
<rect x="300.0" y="748.0" width="4.2" height="4.2" fill="#000"/>
<rect x="306.5" y="749.0" width="4.2" height="4.2" fill="#000"/>
<rect x="312.9" y="748.5" width="4.2" height="4.2" fill="#000"/>
<rect x="293.5" y="753.3" width="4.2" height="4.2" fill="#000"/>
<rect x="319.4" y="753.3" width="4.2" height="4.2" fill="#000"/>
<rect x="300.0" y="755.7" width="4.2" height="4.2" fill="#000"/>
<rect x="312.9" y="755.4" width="4.2" height="4.2" fill="#000"/>
<rect x="306.5" y="757.9" width="4.2" height="4.2" fill="#000"/>
<rect x="293.5" y="763.1" width="4.2" height="4.2" fill="#000"/>
<rect x="300.0" y="763.4" width="4.2" height="4.2" fill="#000"/>
<rect x="306.5" y="764.6" width="4.2" height="4.2" fill="#000"/>
<rect x="309.8" y="762.4" width="4.2" height="4.2" fill="#000"/>
<rect x="312.9" y="764.3" width="4.2" height="4.2" fill="#000"/>
<rect x="319.4" y="763.4" width="4.2" height="4.2" fill="#000"/>
<rect x="293.5" y="770.8" width="4.2" height="4.2" fill="#000"/>
<rect x="312.9" y="772.0" width="4.2" height="4.2" fill="#000"/>
<rect x="300.0" y="776.4" width="4.2" height="4.2" fill="#000"/>
<rect x="306.5" y="776.8" width="4.2" height="4.2" fill="#000"/>
<rect x="300.0" y="780.2" width="4.2" height="4.2" fill="#000"/>
<rect x="319.4" y="780.0" width="4.2" height="4.2" fill="#000"/>
<rect x="306.5" y="783.6" width="4.2" height="4.2" fill="#000"/>
<rect x="312.9" y="782.9" width="4.2" height="4.2" fill="#000"/>
<circle cx="418.3" cy="675.2" r="2.15" fill="#000"/>
<circle cx="418.3" cy="692.2" r="2.15" fill="#000"/>
<circle cx="418.3" cy="718.1" r="2.15" fill="#000"/>
<circle cx="418.3" cy="735.1" r="2.15" fill="#000"/>
<circle cx="418.3" cy="742.5" r="2.15" fill="#000"/>
<circle cx="415.3" cy="754.9" r="2.15" fill="#000"/>
<circle cx="418.3" cy="761.5" r="2.15" fill="#000"/>
<circle cx="421.7" cy="759.7" r="2.15" fill="#000"/>
<circle cx="421.7" cy="775.8" r="2.15" fill="#000"/>
<circle cx="415.3" cy="778.7" r="2.15" fill="#000"/>
<circle cx="418.3" cy="782.4" r="2.15" fill="#000"/>
<circle cx="418.3" cy="789.7" r="2.15" fill="#000"/>
<rect x="438.1" y="651.7" width="4.2" height="4.2" fill="#000"/>
<rect x="438.1" y="691.7" width="4.2" height="4.2" fill="#000"/>
<rect x="438.1" y="704.6" width="4.2" height="4.2" fill="#000"/>
<rect x="438.1" y="740.0" width="4.2" height="4.2" fill="#000"/>
<rect x="434.7" y="747.6" width="4.2" height="4.2" fill="#000"/>
<rect x="438.1" y="747.6" width="4.2" height="4.2" fill="#000"/>
<rect x="438.1" y="755.2" width="4.2" height="4.2" fill="#000"/>
<rect x="441.7" y="760.4" width="4.2" height="4.2" fill="#000"/>
<rect x="434.7" y="764.0" width="4.2" height="4.2" fill="#000"/>
<rect x="438.1" y="764.0" width="4.2" height="4.2" fill="#000"/>
<rect x="441.7" y="776.6" width="4.2" height="4.2" fill="#000"/>
<rect x="438.1" y="778.2" width="4.2" height="4.2" fill="#000"/>
<polygon points="456.1,654.9 460.7,654.9 458.4,650.7" fill="#000"/>
<polygon points="459.6,660.1 464.2,660.1 461.9,655.9" fill="#000"/>
<polygon points="463.0,660.1 467.6,660.1 465.3,655.9" fill="#000"/>
<polygon points="459.6,670.0 464.2,670.0 461.9,665.8" fill="#000"/>
<polygon points="459.6,679.6 464.2,679.6 461.9,675.4" fill="#000"/>
<polygon points="456.1,690.8 460.7,690.8 458.4,686.6" fill="#000"/>
<polygon points="463.0,689.5 467.6,689.5 465.3,685.3" fill="#000"/>
<polygon points="459.6,693.9 464.2,693.9 461.9,689.7" fill="#000"/>
<polygon points="456.1,696.0 460.7,696.0 458.4,691.8" fill="#000"/>
<polygon points="461.7,696.0 466.3,696.0 464.0,691.8" fill="#000"/>
<polygon points="463.0,697.3 467.6,697.3 465.3,693.1" fill="#000"/>
<polygon points="459.6,702.1 464.2,702.1 461.9,697.9" fill="#000"/>
<polygon points="459.6,708.6 464.2,708.6 461.9,704.4" fill="#000"/>
<polygon points="456.1,713.8 460.7,713.8 458.4,709.6" fill="#000"/>
<polygon points="459.6,712.9 464.2,712.9 461.9,708.7" fill="#000"/>
<polygon points="463.0,714.6 467.6,714.6 465.3,710.4" fill="#000"/>
<polygon points="459.6,716.4 464.2,716.4 461.9,712.2" fill="#000"/>
<polygon points="463.0,720.3 467.6,720.3 465.3,716.1" fill="#000"/>
<polygon points="456.4,724.9 461.0,724.9 458.7,720.7" fill="#000"/>
<polygon points="459.9,726.8 464.5,726.8 462.2,722.6" fill="#000"/>
<polygon points="462.8,727.3 467.4,727.3 465.1,723.1" fill="#000"/>
<polygon points="455.9,731.2 460.5,731.2 458.2,727.0" fill="#000"/>
<polygon points="459.9,734.2 464.5,734.2 462.2,730.0" fill="#000"/>
<polygon points="462.8,733.7 467.4,733.7 465.1,729.5" fill="#000"/>
<polygon points="457.9,736.6 462.5,736.6 460.2,732.4" fill="#000"/>
<polygon points="456.4,739.6 461.0,739.6 458.7,735.4" fill="#000"/>
<polygon points="459.9,740.6 464.5,740.6 462.2,736.4" fill="#000"/>
<polygon points="462.8,739.6 467.4,739.6 465.1,735.4" fill="#000"/>
<polygon points="456.4,746.9 461.0,746.9 458.7,742.7" fill="#000"/>
<polygon points="459.9,746.4 464.5,746.4 462.2,742.2" fill="#000"/>
<polygon points="462.8,748.9 467.4,748.9 465.1,744.7" fill="#000"/>
<polygon points="459.9,750.9 464.5,750.9 462.2,746.7" fill="#000"/>
<polygon points="462.8,754.8 467.4,754.8 465.1,750.6" fill="#000"/>
<polygon points="456.4,757.7 461.0,757.7 458.7,753.5" fill="#000"/>
<polygon points="459.9,760.2 464.5,760.2 462.2,756.0" fill="#000"/>
<polygon points="461.3,765.1 465.9,765.1 463.6,760.9" fill="#000"/>
<polygon points="456.4,766.6 461.0,766.6 458.7,762.4" fill="#000"/>
<polygon points="459.9,771.0 464.5,771.0 462.2,766.8" fill="#000"/>
<polygon points="462.8,770.0 467.4,770.0 465.1,765.8" fill="#000"/>
<polygon points="456.4,774.9 461.0,774.9 458.7,770.7" fill="#000"/>
<polygon points="459.9,779.3 464.5,779.3 462.2,775.1" fill="#000"/>
<polygon points="456.4,782.8 461.0,782.8 458.7,778.6" fill="#000"/>
<polygon points="462.8,783.7 467.4,783.7 465.1,779.5" fill="#000"/>
<polygon points="459.9,788.2 464.5,788.2 462.2,784.0" fill="#000"/>
<polygon points="481.2,656.2 485.8,656.2 483.5,660.4" fill="#000"/>
<polygon points="481.2,666.3 485.8,666.3 483.5,670.5" fill="#000"/>
<polygon points="481.2,691.7 485.8,691.7 483.5,695.9" fill="#000"/>
<polygon points="481.2,698.3 485.8,698.3 483.5,702.5" fill="#000"/>
<polygon points="477.9,714.4 482.5,714.4 480.2,718.6" fill="#000"/>
<polygon points="481.5,719.5 486.1,719.5 483.8,723.7" fill="#000"/>
<polygon points="481.5,729.7 486.1,729.7 483.8,733.9" fill="#000"/>
<polygon points="481.5,739.3 486.1,739.3 483.8,743.5" fill="#000"/>
<polygon points="484.6,745.4 489.2,745.4 486.9,749.6" fill="#000"/>
<polygon points="481.5,747.6 486.1,747.6 483.8,751.8" fill="#000"/>
<polygon points="481.5,763.1 486.1,763.1 483.8,767.3" fill="#000"/>
<polygon points="481.5,774.6 486.1,774.6 483.8,778.8" fill="#000"/>
<polygon points="505.4,656.5 507.9,659.0 505.4,661.5 502.9,659.0" fill="#000"/>
<polygon points="510.6,679.8 513.1,682.3 510.6,684.8 508.1,682.3" fill="#000"/>
<polygon points="505.4,682.2 507.9,684.7 505.4,687.2 502.9,684.7" fill="#000"/>
<polygon points="500.0,694.7 502.5,697.2 500.0,699.7 497.5,697.2" fill="#000"/>
<polygon points="505.4,695.0 507.9,697.5 505.4,700.0 502.9,697.5" fill="#000"/>
<polygon points="500.0,702.7 502.5,705.2 500.0,707.7 497.5,705.2" fill="#000"/>
<polygon points="505.4,705.6 507.9,708.1 505.4,710.6 502.9,708.1" fill="#000"/>
<polygon points="510.6,705.3 513.1,707.8 510.6,710.3 508.1,707.8" fill="#000"/>
<polygon points="500.0,719.8 502.5,722.3 500.0,724.8 497.5,722.3" fill="#000"/>
<polygon points="505.4,723.4 507.9,725.9 505.4,728.4 502.9,725.9" fill="#000"/>
<polygon points="500.0,728.6 502.5,731.1 500.0,733.6 497.5,731.1" fill="#000"/>
<polygon points="505.4,732.8 507.9,735.3 505.4,737.8 502.9,735.3" fill="#000"/>
<polygon points="510.5,731.1 513.0,733.6 510.5,736.1 508.0,733.6" fill="#000"/>
<polygon points="507.8,739.1 510.3,741.6 507.8,744.1 505.3,741.6" fill="#000"/>
<polygon points="500.0,743.3 502.5,745.8 500.0,748.3 497.5,745.8" fill="#000"/>
<polygon points="502.6,742.3 505.1,744.8 502.6,747.3 500.1,744.8" fill="#000"/>
<polygon points="505.4,744.3 507.9,746.8 505.4,749.3 502.9,746.8" fill="#000"/>
<polygon points="510.5,743.0 513.0,745.5 510.5,748.0 508.0,745.5" fill="#000"/>
<polygon points="500.0,752.4 502.5,754.9 500.0,757.4 497.5,754.9" fill="#000"/>
<polygon points="505.4,755.4 507.9,757.9 505.4,760.4 502.9,757.9" fill="#000"/>
<polygon points="510.5,755.4 513.0,757.9 510.5,760.4 508.0,757.9" fill="#000"/>
<polygon points="502.6,761.3 505.1,763.8 502.6,766.3 500.1,763.8" fill="#000"/>
<polygon points="500.0,763.2 502.5,765.7 500.0,768.2 497.5,765.7" fill="#000"/>
<polygon points="505.4,763.4 507.9,765.9 505.4,768.4 502.9,765.9" fill="#000"/>
<polygon points="510.5,762.7 513.0,765.2 510.5,767.7 508.0,765.2" fill="#000"/>
<polygon points="507.8,765.4 510.3,767.9 507.8,770.4 505.3,767.9" fill="#000"/>
<polygon points="500.0,766.9 502.5,769.4 500.0,771.9 497.5,769.4" fill="#000"/>
<polygon points="510.5,767.9 513.0,770.4 510.5,772.9 508.0,770.4" fill="#000"/>
<polygon points="505.4,769.8 507.9,772.3 505.4,774.8 502.9,772.3" fill="#000"/>
<line x1="237.50" y1="454.50" x2="273.80" y2="454.50" stroke="#444" stroke-width="1.3" stroke-linecap="butt"/>
<line x1="291.30" y1="471.30" x2="328.30" y2="471.30" stroke="#444" stroke-width="1.3" stroke-linecap="butt"/>
<line x1="417.20" y1="453.40" x2="453.80" y2="453.40" stroke="#444" stroke-width="1.3" stroke-linecap="butt"/>
<line x1="471.70" y1="467.30" x2="508.30" y2="467.30" stroke="#444" stroke-width="1.3" stroke-linecap="butt"/>
<line x1="51.80" y1="724.20" x2="69.80" y2="724.20" stroke="#444" stroke-width="1.3" stroke-linecap="butt"/>
<line x1="78.20" y1="724.10" x2="96.00" y2="724.10" stroke="#444" stroke-width="1.3" stroke-linecap="butt"/>
<line x1="104.30" y1="728.30" x2="122.30" y2="728.30" stroke="#444" stroke-width="1.3" stroke-linecap="butt"/>
<line x1="130.20" y1="765.20" x2="148.00" y2="765.20" stroke="#444" stroke-width="1.3" stroke-linecap="butt"/>
<line x1="237.20" y1="735.80" x2="273.40" y2="735.80" stroke="#444" stroke-width="1.3" stroke-linecap="butt"/>
<line x1="291.00" y1="746.90" x2="326.80" y2="746.90" stroke="#444" stroke-width="1.3" stroke-linecap="butt"/>
<line x1="411.10" y1="747.00" x2="426.20" y2="747.00" stroke="#444" stroke-width="1.3" stroke-linecap="butt"/>
<line x1="432.90" y1="740.10" x2="447.70" y2="740.10" stroke="#444" stroke-width="1.3" stroke-linecap="butt"/>
<line x1="454.30" y1="726.20" x2="469.00" y2="726.20" stroke="#444" stroke-width="1.3" stroke-linecap="butt"/>
<line x1="475.90" y1="722.60" x2="490.80" y2="722.60" stroke="#444" stroke-width="1.3" stroke-linecap="butt"/>
<line x1="498.00" y1="735.30" x2="512.40" y2="735.30" stroke="#444" stroke-width="1.3" stroke-linecap="butt"/>
<line x1="255.80" y1="511.20" x2="255.80" y2="514.00" stroke="#3a3a3a" stroke-width="1.1" stroke-linecap="butt"/>
<line x1="309.80" y1="511.20" x2="309.80" y2="514.00" stroke="#3a3a3a" stroke-width="1.1" stroke-linecap="butt"/>
<line x1="435.60" y1="510.90" x2="435.60" y2="513.70" stroke="#3a3a3a" stroke-width="1.1" stroke-linecap="butt"/>
<line x1="489.80" y1="510.90" x2="489.80" y2="513.70" stroke="#3a3a3a" stroke-width="1.1" stroke-linecap="butt"/>
<line x1="60.90" y1="788.20" x2="60.90" y2="791.00" stroke="#3a3a3a" stroke-width="1.1" stroke-linecap="butt"/>
<line x1="87.40" y1="788.20" x2="87.40" y2="791.00" stroke="#3a3a3a" stroke-width="1.1" stroke-linecap="butt"/>
<line x1="113.40" y1="788.20" x2="113.40" y2="791.00" stroke="#3a3a3a" stroke-width="1.1" stroke-linecap="butt"/>
<line x1="139.60" y1="788.20" x2="139.60" y2="791.00" stroke="#3a3a3a" stroke-width="1.1" stroke-linecap="butt"/>
<line x1="254.80" y1="790.20" x2="254.80" y2="793.00" stroke="#3a3a3a" stroke-width="1.1" stroke-linecap="butt"/>
<line x1="308.40" y1="790.20" x2="308.40" y2="793.00" stroke="#3a3a3a" stroke-width="1.1" stroke-linecap="butt"/>
<line x1="418.40" y1="790.00" x2="418.40" y2="792.80" stroke="#3a3a3a" stroke-width="1.1" stroke-linecap="butt"/>
<line x1="440.20" y1="790.00" x2="440.20" y2="792.80" stroke="#3a3a3a" stroke-width="1.1" stroke-linecap="butt"/>
<line x1="461.90" y1="790.00" x2="461.90" y2="792.80" stroke="#3a3a3a" stroke-width="1.1" stroke-linecap="butt"/>
<line x1="483.80" y1="790.00" x2="483.80" y2="792.80" stroke="#3a3a3a" stroke-width="1.1" stroke-linecap="butt"/>
<line x1="505.60" y1="790.00" x2="505.60" y2="792.80" stroke="#3a3a3a" stroke-width="1.1" stroke-linecap="butt"/>
<line x1="251.80" y1="347.70" x2="310.00" y2="347.70" stroke="#333" stroke-width="1.3" stroke-linecap="butt"/>
<line x1="251.80" y1="344.90" x2="251.80" y2="350.50" stroke="#333" stroke-width="1.3" stroke-linecap="butt"/>
<line x1="310.00" y1="344.90" x2="310.00" y2="350.50" stroke="#333" stroke-width="1.3" stroke-linecap="butt"/>
<text x="260.60" y="339.00" font-size="10.8" font-weight="normal" text-anchor="start" fill="#222">P&lt;0.0001</text>
<line x1="435.60" y1="343.70" x2="487.50" y2="343.70" stroke="#333" stroke-width="1.3" stroke-linecap="butt"/>
<line x1="435.60" y1="340.90" x2="435.60" y2="346.50" stroke="#333" stroke-width="1.3" stroke-linecap="butt"/>
<line x1="487.50" y1="340.90" x2="487.50" y2="346.50" stroke="#333" stroke-width="1.3" stroke-linecap="butt"/>
<text x="443.60" y="335.60" font-size="10.8" font-weight="normal" text-anchor="start" fill="#222">P=0.004</text>
<line x1="60.20" y1="624.30" x2="139.90" y2="624.30" stroke="#333" stroke-width="1.3" stroke-linecap="butt"/>
<line x1="60.20" y1="621.50" x2="60.20" y2="627.10" stroke="#333" stroke-width="1.3" stroke-linecap="butt"/>
<line x1="139.90" y1="621.50" x2="139.90" y2="627.10" stroke="#333" stroke-width="1.3" stroke-linecap="butt"/>
<line x1="87.40" y1="637.70" x2="139.90" y2="637.70" stroke="#333" stroke-width="1.3" stroke-linecap="butt"/>
<line x1="87.40" y1="634.90" x2="87.40" y2="640.50" stroke="#333" stroke-width="1.3" stroke-linecap="butt"/>
<line x1="139.90" y1="634.90" x2="139.90" y2="640.50" stroke="#333" stroke-width="1.3" stroke-linecap="butt"/>
<line x1="113.30" y1="651.50" x2="139.90" y2="651.50" stroke="#333" stroke-width="1.3" stroke-linecap="butt"/>
<line x1="113.30" y1="648.70" x2="113.30" y2="654.30" stroke="#333" stroke-width="1.3" stroke-linecap="butt"/>
<line x1="139.90" y1="648.70" x2="139.90" y2="654.30" stroke="#333" stroke-width="1.3" stroke-linecap="butt"/>
<text x="99.10" y="622.20" font-size="10.5" font-weight="normal" text-anchor="start" fill="#222">P&lt;0.005</text>
<text x="97.60" y="634.90" font-size="10.5" font-weight="normal" text-anchor="start" fill="#222">P&lt;0.005</text>
<text x="99.10" y="648.20" font-size="10.5" font-weight="normal" text-anchor="start" fill="#222">P&lt;0.005</text>
<line x1="255.40" y1="626.30" x2="306.30" y2="626.30" stroke="#333" stroke-width="1.3" stroke-linecap="butt"/>
<line x1="255.40" y1="623.50" x2="255.40" y2="629.10" stroke="#333" stroke-width="1.3" stroke-linecap="butt"/>
<line x1="306.30" y1="623.50" x2="306.30" y2="629.10" stroke="#333" stroke-width="1.3" stroke-linecap="butt"/>
<text x="273.70" y="620.20" font-size="10.6" font-weight="normal" text-anchor="start" fill="#222">n.s.</text>
<line x1="417.50" y1="622.60" x2="507.80" y2="622.60" stroke="#333" stroke-width="1.3" stroke-linecap="butt"/>
<line x1="417.50" y1="619.80" x2="417.50" y2="625.40" stroke="#333" stroke-width="1.3" stroke-linecap="butt"/>
<line x1="507.80" y1="619.80" x2="507.80" y2="625.40" stroke="#333" stroke-width="1.3" stroke-linecap="butt"/>
<text x="454.90" y="615.70" font-size="10.6" font-weight="normal" text-anchor="start" fill="#222">n.s.</text>
<text x="258.80" y="524.20" font-size="10.8" font-weight="bold" text-anchor="end" fill="#000" transform="rotate(-45 258.8 524.2)">M IgHV (n=96)</text>
<text x="312.80" y="524.20" font-size="10.8" font-weight="bold" text-anchor="end" fill="#000" transform="rotate(-45 312.8 524.2)">U IgHV (n=72)</text>
<text x="438.60" y="523.90" font-size="10.8" font-weight="bold" text-anchor="end" fill="#000" transform="rotate(-45 438.6 523.9)">ZAP-70neg(n=95)</text>
<text x="492.80" y="523.90" font-size="10.8" font-weight="bold" text-anchor="end" fill="#000" transform="rotate(-45 492.8 523.9)">ZAP-70pos (n=73)</text>
<text x="63.90" y="801.20" font-size="10.4" font-weight="bold" text-anchor="end" fill="#000" transform="rotate(-45 63.9 801.2)">Rai 0 (n=58)</text>
<text x="90.40" y="801.20" font-size="10.4" font-weight="bold" text-anchor="end" fill="#000" transform="rotate(-45 90.4 801.2)">Rai I (n=44)</text>
<text x="116.40" y="801.20" font-size="10.4" font-weight="bold" text-anchor="end" fill="#000" transform="rotate(-45 116.4 801.2)">Rai II (n=25)</text>
<text x="142.60" y="801.20" font-size="10.4" font-weight="bold" text-anchor="end" fill="#000" transform="rotate(-45 142.6 801.2)">Rai III-IV (n=9)</text>
<text x="257.80" y="804.20" font-size="10.6" font-weight="bold" text-anchor="end" fill="#000" transform="rotate(-45 257.8 804.2)">CD38 neg (n=119)</text>
<text x="311.40" y="804.20" font-size="10.6" font-weight="bold" text-anchor="end" fill="#000" transform="rotate(-45 311.4 804.2)">CD38 pos (n=49)</text>
<text x="421.40" y="803.00" font-size="10.8" font-weight="bold" text-anchor="end" fill="#000" transform="rotate(-45 421.4 803.0)">del17p13 (n=12)</text>
<text x="443.20" y="803.00" font-size="10.8" font-weight="bold" text-anchor="end" fill="#000" transform="rotate(-45 443.2 803.0)">del11q23 (n=12)</text>
<text x="464.90" y="803.00" font-size="10.8" font-weight="bold" text-anchor="end" fill="#000" transform="rotate(-45 464.9 803.0)">del13q14 (n=50)</text>
<text x="486.80" y="803.00" font-size="10.8" font-weight="bold" text-anchor="end" fill="#000" transform="rotate(-45 486.8 803.0)">tris 12 (n=12)</text>
<text x="508.60" y="803.00" font-size="10.8" font-weight="bold" text-anchor="end" fill="#000" transform="rotate(-45 508.6 803.0)">normal (n=29)</text>
</svg>
</body></html>
